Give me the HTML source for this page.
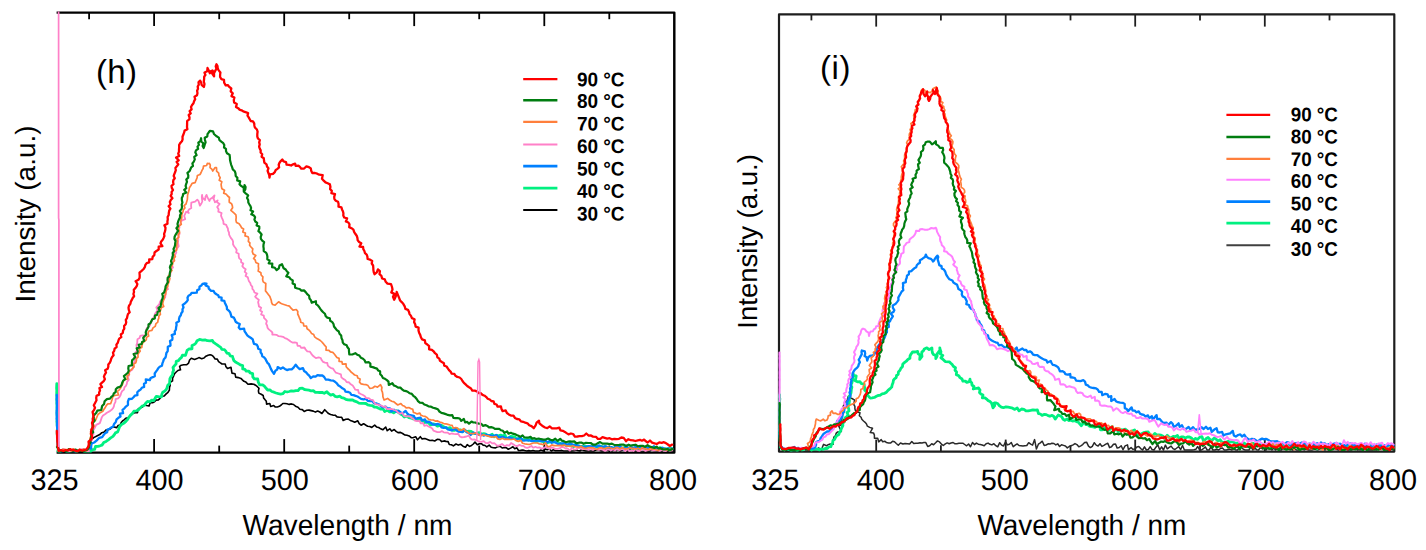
<!DOCTYPE html>
<html><head><meta charset="utf-8"><style>
html,body{margin:0;padding:0;background:#fff;}
body{width:1426px;height:550px;overflow:hidden;}
svg{display:block;}
text{font-family:"Liberation Sans",sans-serif;fill:#000;text-rendering:geometricPrecision;}
.lg{font-size:19.7px;font-weight:bold;}
.tk{font-size:29.6px;}
.ax{font-size:29px;}
.yl1{font-size:27.8px;}
.yl2{font-size:27.5px;}
.pl{font-size:33px;letter-spacing:0.3px;}
.pl2{font-size:33px;letter-spacing:0.6px;}
</style></head><body>
<svg width="1426" height="550" viewBox="0 0 1426 550">
<g stroke="#000" stroke-width="2.45" fill="none" stroke-linecap="butt" stroke-linejoin="round">
<polyline points="56.6,12.6 674.3,12.6 674.3,452.6 56.6,452.6"/>
</g>
<g stroke="#1e1e1e" stroke-width="2.2" fill="none" stroke-linecap="butt" stroke-linejoin="round">
<rect x="779.0" y="14.4" width="615.3" height="437.2"/>
</g>
<g stroke="#000" fill="none">
<line x1="89.1" y1="12.6" x2="89.1" y2="19.2" stroke-width="1.8"/>
<line x1="89.1" y1="452.6" x2="89.1" y2="445.6" stroke-width="1.8"/>
<line x1="154.1" y1="12.6" x2="154.1" y2="26.1" stroke-width="1.8"/>
<line x1="154.1" y1="452.6" x2="154.1" y2="439.1" stroke-width="1.8"/>
<line x1="219.2" y1="12.6" x2="219.2" y2="19.2" stroke-width="1.8"/>
<line x1="219.2" y1="452.6" x2="219.2" y2="445.6" stroke-width="1.8"/>
<line x1="284.2" y1="12.6" x2="284.2" y2="26.1" stroke-width="1.8"/>
<line x1="284.2" y1="452.6" x2="284.2" y2="439.1" stroke-width="1.8"/>
<line x1="349.2" y1="12.6" x2="349.2" y2="19.2" stroke-width="1.8"/>
<line x1="349.2" y1="452.6" x2="349.2" y2="445.6" stroke-width="1.8"/>
<line x1="414.2" y1="12.6" x2="414.2" y2="26.1" stroke-width="1.8"/>
<line x1="414.2" y1="452.6" x2="414.2" y2="439.1" stroke-width="1.8"/>
<line x1="479.2" y1="12.6" x2="479.2" y2="19.2" stroke-width="1.8"/>
<line x1="479.2" y1="452.6" x2="479.2" y2="445.6" stroke-width="1.8"/>
<line x1="544.3" y1="12.6" x2="544.3" y2="26.1" stroke-width="1.8"/>
<line x1="544.3" y1="452.6" x2="544.3" y2="439.1" stroke-width="1.8"/>
<line x1="609.3" y1="12.6" x2="609.3" y2="19.2" stroke-width="1.8"/>
<line x1="609.3" y1="452.6" x2="609.3" y2="445.6" stroke-width="1.8"/>
</g>
<g stroke="#1e1e1e" fill="none">
<line x1="811.4" y1="14.4" x2="811.4" y2="20.4" stroke-width="1.8"/>
<line x1="811.4" y1="451.6" x2="811.4" y2="445.3" stroke-width="1.8"/>
<line x1="876.2" y1="14.4" x2="876.2" y2="26.6" stroke-width="1.8"/>
<line x1="876.2" y1="451.6" x2="876.2" y2="439.6" stroke-width="1.8"/>
<line x1="940.9" y1="14.4" x2="940.9" y2="20.4" stroke-width="1.8"/>
<line x1="940.9" y1="451.6" x2="940.9" y2="445.3" stroke-width="1.8"/>
<line x1="1005.7" y1="14.4" x2="1005.7" y2="26.6" stroke-width="1.8"/>
<line x1="1005.7" y1="451.6" x2="1005.7" y2="439.6" stroke-width="1.8"/>
<line x1="1070.5" y1="14.4" x2="1070.5" y2="20.4" stroke-width="1.8"/>
<line x1="1070.5" y1="451.6" x2="1070.5" y2="445.3" stroke-width="1.8"/>
<line x1="1135.2" y1="14.4" x2="1135.2" y2="26.6" stroke-width="1.8"/>
<line x1="1135.2" y1="451.6" x2="1135.2" y2="439.6" stroke-width="1.8"/>
<line x1="1200.0" y1="14.4" x2="1200.0" y2="20.4" stroke-width="1.8"/>
<line x1="1200.0" y1="451.6" x2="1200.0" y2="445.3" stroke-width="1.8"/>
<line x1="1264.8" y1="14.4" x2="1264.8" y2="26.6" stroke-width="1.8"/>
<line x1="1264.8" y1="451.6" x2="1264.8" y2="439.6" stroke-width="1.8"/>
<line x1="1329.5" y1="14.4" x2="1329.5" y2="20.4" stroke-width="1.8"/>
<line x1="1329.5" y1="451.6" x2="1329.5" y2="445.3" stroke-width="1.8"/>
</g>
<path d="M58.5 451.5 L60.6 451.0 L62.7 451.0 L64.8 451.0 L67.0 451.0 L69.1 450.7 L71.2 451.0 L73.3 451.0 L75.4 451.0 L77.5 451.0 L79.7 451.0 L81.8 451.0 L83.9 451.0 L85.3 450.2 L89.1 449.5 L90.1 446.7 L91.3 444.2 L90.7 441.3 L91.7 439.4 L93.7 437.6 L97.3 435.7 L99.8 434.6 L101.8 432.7 L104.2 432.0 L105.9 430.0 L108.5 429.7 L110.6 428.7 L113.0 426.7 L116.7 427.6 L118.1 425.5 L120.2 424.9 L121.2 422.5 L122.5 421.0 L124.1 419.8 L125.7 418.4 L127.9 417.9 L129.6 416.6 L131.1 415.0 L132.7 413.5 L134.7 412.7 L137.5 412.8 L137.8 409.3 L140.1 407.7 L142.3 407.2 L144.0 404.9 L146.6 405.5 L149.1 405.9 L150.2 402.4 L152.6 402.7 L154.5 401.8 L156.0 400.1 L158.4 399.9 L160.0 398.4 L161.0 396.3 L164.2 396.0 L165.9 394.1 L168.0 392.3 L169.4 390.1 L169.5 387.5 L170.2 385.2 L169.9 382.5 L172.5 380.9 L172.6 378.1 L173.7 375.8 L174.6 373.6 L176.2 372.0 L177.9 370.5 L180.5 369.8 L179.6 366.4 L181.3 365.2 L183.7 364.7 L186.5 364.8 L188.6 363.1 L189.6 360.0 L191.3 358.3 L194.6 359.4 L197.0 358.6 L198.9 357.6 L201.7 358.7 L204.0 358.0 L205.9 356.2 L208.1 355.2 L210.0 354.7 L211.4 355.1 L212.6 355.7 L213.9 357.3 L215.1 359.0 L217.3 359.1 L218.6 361.6 L220.1 362.7 L222.0 364.0 L225.2 364.0 L225.8 366.4 L227.5 368.5 L231.0 367.3 L231.5 370.5 L232.0 373.1 L235.0 373.7 L235.7 377.1 L238.3 377.6 L240.9 378.4 L242.4 379.9 L243.9 381.3 L245.9 382.1 L248.0 384.2 L251.1 383.9 L253.8 384.2 L256.0 385.5 L257.4 386.7 L259.0 388.3 L258.4 390.9 L258.8 393.1 L261.2 394.3 L263.2 395.5 L263.6 397.9 L264.9 399.6 L266.3 401.3 L266.6 404.1 L269.8 403.5 L270.7 406.4 L273.7 405.5 L275.1 406.9 L277.3 407.0 L279.4 406.3 L281.2 405.0 L282.8 403.5 L284.9 403.5 L287.0 403.8 L289.2 404.4 L291.4 403.9 L293.5 404.5 L295.5 406.2 L298.0 407.2 L299.9 409.3 L302.3 409.6 L304.2 411.4 L306.7 410.3 L309.0 410.1 L311.1 410.6 L313.3 411.1 L315.4 412.1 L317.7 411.1 L319.8 412.0 L321.9 413.5 L324.7 409.7 L326.7 411.8 L328.5 413.6 L330.6 414.5 L332.8 415.1 L335.2 415.2 L337.0 416.9 L339.3 417.2 L341.7 417.2 L343.1 420.4 L345.8 419.2 L348.3 419.1 L350.3 420.4 L352.6 421.2 L354.7 422.2 L357.8 420.8 L359.2 423.6 L361.1 425.2 L363.6 423.7 L365.6 425.0 L367.6 426.2 L369.8 426.5 L371.8 427.4 L374.7 425.2 L376.5 426.9 L378.7 427.5 L380.7 428.8 L382.8 429.8 L385.7 427.0 L387.2 430.7 L389.8 428.8 L391.6 431.1 L394.2 429.5 L396.1 431.4 L398.0 432.6 L400.5 432.4 L402.6 433.5 L404.6 434.9 L407.0 435.2 L409.2 435.9 L411.2 437.7 L413.4 437.6 L415.8 436.8 L417.5 439.8 L420.3 436.7 L422.1 438.9 L424.9 438.5 L427.4 439.4 L429.9 440.5 L432.3 440.3 L434.7 441.0 L437.2 439.3 L439.6 439.5 L441.7 441.6 L444.0 440.9 L446.0 441.4 L448.1 441.6 L449.3 444.5 L451.4 444.7 L453.4 445.9 L456.0 444.0 L458.3 445.1 L460.8 444.3 L463.0 446.2 L465.5 447.2 L467.2 444.6 L469.6 446.4 L471.5 445.5 L473.3 444.0 L475.0 442.1 L477.3 444.7 L479.3 443.7 L481.4 443.7 L483.1 445.1 L485.1 445.5 L486.8 446.9 L489.2 445.1 L491.2 447.2 L493.4 447.7 L495.6 447.9 L497.9 446.6 L500.2 446.3 L502.2 448.0 L504.5 447.4 L506.5 447.8 L508.3 449.3 L510.6 448.1 L512.9 446.7 L514.7 448.7 L516.9 447.8 L518.5 450.5 L520.6 450.4 L522.8 450.0 L524.7 450.5 L526.8 451.0 L528.8 450.6 L530.9 451.0 L532.9 450.5 L535.0 451.0 L537.0 451.0 L539.1 451.0 L541.1 450.1 L543.2 451.0 L545.2 449.0 L547.3 449.8 L549.3 449.0 L551.3 451.0 L553.4 449.7 L555.4 450.8 L557.5 450.7 L559.5 450.8 L561.6 450.4 L563.6 451.0 L565.6 451.0 L567.7 451.0 L569.7 451.0 L571.8 451.0 L573.8 450.8 L575.8 449.9 L577.8 450.5 L579.8 451.0 L581.8 449.5 L583.8 450.5 L585.8 451.0 L587.8 451.0 L589.8 451.0 L591.8 451.0 L593.8 451.0 L595.9 450.0 L597.9 449.6 L599.9 450.5 L601.9 451.0 L603.9 450.6 L605.9 450.3 L607.9 450.4 L609.9 449.7 L611.9 451.0 L613.9 450.0 L615.9 451.0 L617.9 449.0 L619.9 451.0 L621.9 450.5 L623.9 449.4 L625.9 451.0 L627.9 450.9 L629.9 449.1 L631.9 450.3 L633.9 451.0 L635.9 450.7 L637.9 451.0 L639.9 451.0 L641.9 451.0 L643.9 451.0 L645.9 451.0 L648.0 451.0 L650.0 451.0 L652.0 449.3 L654.0 451.0 L656.0 451.0 L658.0 450.9 L660.0 450.8 L662.0 451.0 L664.0 449.6 L666.0 451.0 L668.0 451.0 L670.0 450.4 L672.0 451.2" fill="none" stroke="#000000" stroke-width="1.6" stroke-linejoin="round" stroke-linecap="round"/>
<path d="M56.8 383.6 L56.7 385.9 L56.6 388.2 L56.8 390.4 L56.7 392.7 L56.7 395.0 L56.9 397.0 L56.9 399.1 L56.9 401.1 L56.8 403.2 L57.0 405.2 L57.0 407.3 L57.1 409.3 L57.1 411.4 L57.0 413.4 L57.1 415.5 L57.3 417.5 L57.3 419.5 L56.9 421.6 L57.1 423.6 L57.2 425.7 L57.6 427.7 L57.3 429.8 L57.3 431.8 L57.2 433.9 L57.4 435.9 L57.5 438.0 L57.4 440.0 L57.9 442.2 L57.8 444.4 L58.1 446.6 L58.4 448.8 L57.8 451.0 L60.6 451.0 L62.7 449.9 L64.8 450.6 L66.9 451.0 L69.0 451.0 L71.1 450.9 L73.3 450.5 L75.3 451.0 L77.5 451.0 L79.6 450.4 L81.7 450.3 L83.8 451.0 L85.9 451.0 L88.0 451.0 L91.1 451.0 L92.4 449.7 L94.7 449.3 L95.5 446.5 L97.9 446.4 L100.0 445.8 L102.0 445.1 L103.7 442.6 L106.1 441.4 L108.6 439.6 L110.7 437.9 L113.0 436.4 L114.3 434.7 L115.4 432.9 L117.6 432.0 L118.6 429.5 L119.5 426.9 L121.1 424.8 L123.6 423.4 L125.7 421.7 L127.4 419.7 L128.7 417.5 L130.3 415.4 L132.3 413.6 L133.9 411.2 L136.5 410.8 L138.7 409.7 L140.2 407.9 L142.0 406.2 L144.3 405.5 L145.7 403.3 L147.5 401.4 L150.0 401.8 L151.5 400.2 L153.9 400.5 L155.1 398.3 L156.3 396.3 L158.6 396.6 L161.5 396.8 L161.8 394.2 L162.7 392.2 L164.5 391.2 L166.3 389.5 L167.1 387.4 L167.8 385.2 L169.6 383.4 L169.7 381.0 L169.9 378.6 L171.1 376.5 L172.6 374.6 L172.7 372.3 L173.6 370.2 L173.0 367.5 L174.5 365.7 L176.1 363.8 L176.2 361.4 L178.5 360.6 L179.8 358.8 L181.5 357.4 L182.4 355.2 L185.5 355.3 L186.3 352.9 L187.1 350.4 L188.9 349.0 L192.0 348.8 L192.0 345.5 L194.3 344.5 L196.0 342.9 L197.1 340.7 L199.6 339.4 L202.4 340.1 L205.0 339.8 L207.3 340.7 L209.8 340.8 L212.4 340.5 L213.6 342.4 L215.4 343.7 L217.2 344.9 L218.9 346.2 L220.7 347.4 L221.8 349.3 L224.4 349.6 L225.8 351.2 L226.9 353.1 L229.2 353.7 L230.1 355.8 L232.5 356.3 L233.1 358.5 L233.9 360.7 L235.9 362.3 L238.1 363.4 L240.2 364.8 L242.7 365.6 L242.7 368.9 L244.9 369.4 L246.2 371.1 L248.9 371.1 L250.1 372.9 L252.7 373.7 L252.8 376.9 L254.3 378.8 L257.7 379.0 L258.3 382.2 L259.6 384.9 L262.7 384.9 L264.6 386.4 L266.1 388.3 L267.6 390.0 L269.9 389.9 L271.8 391.5 L274.0 392.2 L276.1 393.0 L278.4 393.6 L280.7 394.1 L282.8 393.7 L284.9 391.5 L287.1 392.0 L289.2 391.5 L291.3 390.9 L293.6 391.2 L295.8 390.7 L298.1 390.6 L299.8 388.4 L302.3 388.1 L304.5 389.5 L306.7 389.8 L308.9 390.2 L311.0 390.8 L313.3 390.7 L315.3 392.3 L317.5 392.4 L319.8 392.5 L322.1 392.4 L324.2 393.3 L326.9 391.8 L328.7 393.7 L330.7 395.1 L333.2 394.4 L335.0 396.3 L337.2 396.8 L339.7 396.2 L341.6 397.6 L343.8 398.1 L345.8 399.3 L348.0 399.9 L350.3 400.0 L352.7 400.0 L354.7 401.2 L356.9 401.9 L358.9 403.1 L361.1 403.4 L363.5 403.3 L365.9 403.5 L367.8 404.9 L370.1 405.3 L372.3 405.6 L374.3 407.0 L376.6 407.2 L378.6 408.2 L380.7 409.1 L383.1 408.9 L384.7 411.6 L387.4 410.1 L389.3 411.8 L391.7 411.5 L393.7 412.9 L396.6 410.7 L398.5 412.5 L400.4 414.0 L402.5 415.0 L404.3 417.0 L407.0 416.2 L408.9 417.7 L411.2 418.0 L413.3 418.9 L415.6 419.3 L418.0 419.5 L420.0 420.7 L422.6 420.2 L424.2 422.7 L426.9 421.6 L428.8 423.1 L430.6 425.1 L433.3 423.8 L435.4 424.6 L437.4 426.0 L439.7 425.7 L441.9 425.5 L443.7 426.9 L445.7 427.7 L447.8 428.3 L450.1 427.7 L451.9 430.1 L454.0 430.4 L456.3 429.4 L458.4 430.0 L460.6 429.8 L462.4 431.6 L464.8 430.3 L466.7 431.7 L469.0 431.2 L471.1 431.4 L473.0 432.9 L475.0 433.7 L477.3 433.0 L479.5 432.7 L481.5 434.1 L483.7 433.7 L485.7 434.2 L487.7 435.4 L489.9 435.4 L492.2 434.3 L494.0 436.8 L496.3 435.2 L498.4 436.0 L500.6 435.1 L502.7 435.9 L504.9 434.9 L506.4 438.1 L508.4 438.1 L510.8 436.4 L512.8 436.6 L514.8 436.8 L516.4 439.4 L518.6 438.5 L520.5 439.2 L522.6 439.4 L524.5 439.9 L526.6 439.3 L528.5 440.3 L530.6 439.3 L532.5 440.6 L534.5 441.0 L536.5 441.3 L538.5 440.9 L540.6 440.5 L542.5 441.5 L544.5 441.1 L546.4 443.0 L548.5 442.5 L550.5 441.9 L552.5 441.8 L554.6 441.7 L556.7 441.9 L558.7 442.7 L560.7 443.5 L562.7 444.1 L564.8 444.4 L566.7 446.0 L569.1 444.1 L571.1 445.0 L572.8 447.6 L575.5 444.2 L577.3 445.6 L579.3 446.2 L581.4 446.3 L583.4 446.6 L585.4 446.2 L587.5 446.8 L589.5 446.6 L591.5 447.3 L593.6 445.2 L595.6 446.1 L597.6 447.0 L599.7 446.2 L601.7 446.3 L603.7 447.7 L605.8 446.8 L607.8 447.9 L609.8 448.1 L611.9 447.9 L613.9 448.1 L615.9 447.7 L618.0 446.8 L620.0 448.0 L622.0 448.4 L624.0 447.6 L626.0 448.0 L628.0 448.8 L630.0 447.5 L632.0 448.7 L634.0 449.8 L636.0 447.9 L638.0 448.5 L640.0 448.3 L642.0 449.7 L644.0 448.7 L646.0 449.2 L648.0 448.0 L650.0 448.6 L652.0 448.6 L654.0 447.2 L656.0 449.9 L658.0 449.5 L660.0 447.4 L662.0 449.4 L664.0 448.7 L666.0 449.2 L668.0 449.2 L670.0 447.7 L672.0 449.0" fill="none" stroke="#00f080" stroke-width="2.8" stroke-linejoin="round" stroke-linecap="round"/>
<path d="M56.8 395.0 L56.8 397.2 L56.6 399.3 L56.9 401.5 L56.9 403.7 L57.0 405.8 L56.9 408.0 L56.8 410.2 L56.6 412.3 L56.7 414.5 L56.8 416.6 L56.6 418.8 L57.0 420.9 L57.1 423.0 L57.0 425.1 L57.1 427.3 L57.3 429.4 L57.4 431.5 L57.3 433.6 L57.4 435.8 L57.6 437.9 L57.5 440.0 L57.8 442.1 L57.8 444.2 L58.1 446.3 L58.3 448.4 L58.7 450.3 L60.6 451.0 L62.7 451.0 L64.8 450.3 L67.0 451.0 L69.1 450.0 L71.2 450.7 L73.3 451.0 L75.4 451.0 L77.5 450.4 L79.7 450.7 L81.8 450.9 L83.9 449.6 L86.0 450.8 L87.9 450.0 L91.1 448.2 L91.2 445.7 L91.7 443.5 L94.2 442.5 L96.5 440.6 L99.3 437.8 L102.2 437.1 L103.9 434.7 L105.1 433.1 L107.2 432.2 L107.5 429.6 L109.4 428.7 L111.3 427.6 L113.2 426.6 L114.1 423.9 L115.8 421.9 L116.6 419.3 L118.4 417.8 L120.5 416.5 L119.9 413.6 L123.1 413.1 L122.5 409.8 L124.4 408.3 L125.9 406.6 L128.0 404.8 L127.9 401.6 L128.9 399.0 L132.0 398.8 L133.5 397.3 L134.8 395.7 L137.4 395.2 L137.3 392.3 L138.8 390.8 L140.5 389.6 L141.8 387.8 L144.1 386.9 L144.0 383.7 L146.0 382.7 L145.8 379.3 L149.8 380.2 L150.7 378.0 L152.8 377.1 L154.8 376.2 L154.7 373.5 L155.8 371.9 L157.1 370.1 L158.2 368.3 L159.7 366.8 L161.9 365.8 L162.4 363.4 L163.2 361.4 L163.9 359.2 L165.5 357.4 L166.0 355.2 L166.4 353.0 L167.7 351.2 L167.8 349.1 L167.8 346.8 L170.5 345.6 L170.4 343.4 L170.0 341.1 L172.3 339.7 L172.5 337.5 L171.7 335.1 L174.9 333.9 L174.7 331.5 L175.9 329.6 L176.1 327.3 L176.6 325.1 L176.3 322.7 L179.0 321.3 L179.0 319.0 L179.5 317.0 L180.8 315.3 L181.3 313.2 L182.6 311.5 L182.5 309.3 L183.5 307.4 L182.7 304.9 L184.8 303.5 L186.5 301.9 L187.8 300.1 L187.5 297.6 L188.5 295.7 L190.3 294.8 L191.6 292.8 L194.0 292.9 L196.7 292.7 L197.3 290.1 L199.4 289.2 L199.5 286.7 L201.3 285.6 L202.5 283.9 L204.7 283.5 L206.5 283.7 L205.6 285.4 L208.5 286.8 L208.8 288.7 L211.1 290.9 L213.5 290.9 L214.7 293.0 L216.4 294.2 L218.2 295.2 L219.0 297.2 L221.6 297.6 L221.5 300.4 L224.3 300.8 L224.9 303.0 L225.9 304.9 L226.8 306.8 L227.0 309.1 L228.7 310.6 L230.1 312.2 L230.8 314.4 L231.4 316.7 L233.8 317.6 L234.8 319.5 L235.6 321.7 L237.5 323.0 L239.8 324.0 L238.7 327.5 L240.2 329.1 L244.1 328.7 L244.6 331.4 L246.0 333.3 L247.3 335.3 L249.1 336.8 L251.0 338.0 L252.8 339.4 L253.3 341.7 L254.0 343.9 L256.7 344.6 L257.8 346.5 L258.2 348.7 L260.6 349.7 L260.6 352.3 L261.8 354.0 L262.3 356.2 L264.2 357.4 L265.5 359.0 L266.4 360.9 L267.4 362.8 L268.9 364.2 L269.9 366.5 L270.9 368.9 L272.1 371.1 L274.0 373.8 L275.4 370.7 L277.2 369.6 L277.7 367.1 L280.7 368.8 L282.9 367.5 L284.9 368.9 L287.0 370.1 L289.1 369.4 L291.7 369.4 L293.6 367.6 L295.7 364.7 L297.9 367.5 L299.7 369.2 L303.0 368.1 L304.1 371.0 L306.0 372.3 L307.5 374.1 L309.2 375.7 L310.8 378.1 L313.2 376.4 L315.6 376.7 L317.5 375.1 L319.7 375.5 L322.3 375.4 L324.2 377.0 L325.7 379.5 L328.3 379.6 L330.7 380.3 L333.3 380.6 L335.3 382.0 L337.1 383.7 L338.5 385.6 L340.6 386.8 L342.4 388.3 L344.5 389.4 L345.6 391.7 L348.3 392.0 L350.1 392.8 L351.4 394.8 L353.6 395.1 L355.5 395.8 L357.5 396.5 L359.2 397.6 L361.1 398.9 L363.4 399.4 L365.9 398.8 L367.7 400.8 L370.0 401.2 L372.5 401.2 L374.1 403.4 L376.6 403.5 L378.8 404.3 L380.7 406.0 L382.7 407.3 L385.5 406.6 L387.3 408.4 L389.9 408.3 L391.3 411.6 L394.1 409.8 L396.0 411.6 L398.4 410.6 L400.4 412.2 L402.2 413.7 L405.6 410.9 L407.2 413.4 L409.1 415.0 L411.4 415.4 L413.8 415.8 L415.1 418.8 L417.9 418.1 L420.6 417.7 L422.1 420.5 L425.0 419.4 L426.4 422.3 L429.0 421.7 L431.0 423.0 L432.9 424.6 L435.4 424.5 L438.0 424.0 L440.1 424.5 L441.4 427.4 L443.6 427.8 L446.1 427.3 L447.7 429.3 L449.9 429.8 L452.0 430.3 L454.5 428.3 L456.3 430.2 L458.3 431.5 L460.4 431.8 L462.5 432.2 L465.0 429.9 L466.8 432.4 L468.8 433.0 L470.7 435.0 L473.2 432.5 L475.2 433.4 L477.3 434.0 L479.4 435.0 L481.6 434.2 L483.6 435.7 L486.0 434.5 L488.0 435.6 L490.2 435.2 L492.3 436.0 L494.5 435.6 L496.8 435.2 L498.6 437.6 L500.9 437.2 L503.1 436.8 L505.2 437.7 L507.3 438.5 L509.6 437.2 L511.7 438.2 L513.8 438.9 L516.0 439.2 L518.2 438.7 L520.7 437.6 L522.6 440.7 L525.0 440.3 L527.3 440.3 L529.6 440.4 L531.8 441.2 L534.0 440.8 L536.3 440.4 L538.5 440.7 L540.7 441.0 L542.9 441.1 L545.1 440.7 L547.3 442.3 L549.7 441.0 L551.8 442.8 L554.2 441.7 L556.4 443.0 L558.6 444.2 L561.1 443.6 L563.6 443.2 L565.8 444.2 L568.2 444.6 L570.4 443.3 L572.3 444.4 L574.3 445.3 L576.3 445.0 L578.3 445.6 L580.3 446.4 L582.3 446.6 L584.3 446.9 L586.4 446.9 L588.5 446.2 L590.6 446.5 L592.7 446.4 L594.8 446.4 L596.9 446.6 L599.0 445.4 L601.1 446.6 L603.2 446.9 L605.3 446.2 L607.4 447.1 L609.5 447.6 L611.6 447.1 L613.6 449.0 L615.9 445.3 L617.9 447.3 L620.0 446.0 L622.0 448.3 L624.0 449.7 L626.0 445.6 L628.0 447.8 L630.0 448.1 L632.0 447.5 L634.0 448.2 L636.0 446.0 L638.0 448.5 L640.0 448.2 L642.0 447.9 L644.0 447.5 L646.0 448.5 L648.0 447.6 L650.0 448.3 L652.0 447.7 L654.0 446.3 L656.0 448.2 L658.0 448.4 L660.0 448.9 L662.0 447.6 L664.0 448.3 L666.0 448.9 L668.0 448.5 L670.0 449.5 L672.0 448.5" fill="none" stroke="#0080ff" stroke-width="2.3" stroke-linejoin="round" stroke-linecap="round"/>
<path d="M58.9 447.0 L58.6 451.0 L61.8 449.8 L63.8 448.9 L65.8 451.0 L67.9 451.0 L69.9 451.0 L71.9 451.0 L73.9 450.0 L75.9 449.9 L77.9 451.0 L79.9 449.8 L82.0 449.0 L84.0 449.7 L86.0 451.0 L89.0 451.0 L88.1 448.2 L88.6 446.1 L90.0 444.3 L89.8 441.9 L92.0 440.3 L91.5 437.9 L91.2 435.6 L93.6 434.0 L92.6 431.5 L93.8 429.6 L95.0 427.3 L96.2 424.9 L99.8 423.1 L100.8 420.4 L101.7 417.6 L103.0 415.6 L105.0 414.3 L106.9 412.7 L109.4 411.4 L111.6 409.8 L113.1 408.2 L113.9 406.3 L114.3 404.1 L115.5 401.9 L115.6 399.1 L118.1 398.4 L119.6 396.8 L120.6 395.0 L121.2 392.9 L122.2 391.0 L124.0 389.6 L124.4 387.3 L125.9 385.8 L126.8 383.8 L127.2 381.6 L128.8 379.8 L128.0 377.3 L128.8 375.3 L129.2 373.2 L129.8 371.1 L132.3 369.7 L133.2 367.7 L132.5 365.2 L133.6 363.3 L134.7 361.4 L135.1 359.3 L135.8 357.3 L134.2 354.9 L135.1 353.1 L136.4 351.2 L137.5 349.4 L136.8 347.2 L136.4 345.1 L137.2 343.2 L137.3 341.2 L137.5 339.2 L139.6 338.0 L140.2 335.9 L142.3 335.4 L145.4 335.7 L145.9 333.0 L146.3 330.8 L146.6 328.5 L148.3 326.9 L150.1 325.4 L150.4 323.2 L151.8 321.5 L152.6 318.7 L154.5 316.6 L154.8 314.2 L156.1 312.2 L157.5 310.2 L156.3 307.3 L158.2 305.5 L159.5 303.8 L160.1 301.6 L161.4 299.9 L163.3 298.6 L165.2 297.3 L165.5 294.8 L165.7 292.7 L164.8 290.4 L168.0 289.1 L167.0 286.8 L167.4 284.8 L167.1 282.7 L168.4 280.9 L168.1 278.8 L169.5 277.1 L170.3 275.2 L170.4 273.2 L171.1 271.3 L170.7 269.1 L173.0 267.6 L172.0 265.0 L171.7 262.7 L173.6 260.9 L173.7 258.6 L174.1 256.5 L175.2 254.5 L176.3 252.5 L175.8 250.1 L177.2 248.2 L178.7 246.3 L178.3 244.2 L177.9 242.1 L178.3 240.0 L178.3 238.0 L178.6 235.9 L179.5 234.0 L179.0 231.9 L177.4 229.6 L179.5 227.8 L179.1 225.7 L180.5 223.9 L180.8 221.6 L182.6 220.1 L185.2 219.1 L184.2 215.9 L186.1 211.8 L188.8 213.0 L187.8 211.5 L188.9 209.6 L191.3 208.1 L191.1 205.8 L191.3 202.7 L195.1 201.7 L197.3 199.6 L198.5 201.0 L199.2 203.2 L199.9 205.7 L201.4 203.5 L202.3 201.5 L202.0 199.2 L201.8 196.9 L202.1 194.9 L202.4 197.7 L205.1 200.0 L205.5 196.6 L206.5 194.9 L207.3 196.9 L208.4 199.1 L209.5 201.0 L210.2 199.0 L212.2 197.9 L214.5 195.4 L213.6 199.0 L214.6 201.1 L214.9 202.4 L217.6 200.4 L216.8 202.0 L219.6 203.9 L217.2 207.0 L218.6 209.2 L218.3 211.7 L221.6 213.0 L221.0 215.6 L221.8 217.6 L222.7 219.6 L223.4 221.5 L223.5 223.8 L226.2 224.8 L226.9 226.7 L227.9 228.5 L228.1 230.6 L229.0 232.5 L229.1 234.6 L230.0 236.4 L231.0 238.2 L232.4 239.8 L233.1 241.9 L233.0 244.3 L234.1 246.3 L235.5 248.0 L236.7 249.9 L236.2 252.5 L238.7 253.8 L238.7 256.2 L239.2 258.4 L241.2 259.9 L241.1 262.2 L243.3 263.6 L242.3 266.1 L243.6 267.8 L245.7 269.3 L244.7 271.9 L246.6 273.4 L245.6 275.9 L247.8 277.3 L248.3 279.3 L249.0 281.3 L250.3 283.0 L250.8 285.0 L252.3 286.6 L252.4 288.9 L253.8 290.5 L254.4 292.5 L257.4 293.6 L255.1 296.7 L256.7 298.3 L258.8 299.7 L258.1 302.2 L258.6 304.2 L258.9 306.4 L261.2 307.7 L260.1 310.4 L262.1 311.8 L261.1 314.5 L263.8 315.6 L264.0 317.8 L265.5 319.4 L266.9 321.0 L266.1 323.7 L267.1 325.5 L267.5 327.7 L268.8 329.4 L270.7 330.9 L272.4 332.5 L272.3 334.6 L274.3 334.7 L276.5 334.8 L278.6 336.2 L280.8 336.3 L283.0 336.8 L284.9 338.1 L287.1 338.9 L289.0 340.2 L290.6 341.5 L292.4 342.6 L294.8 342.4 L296.9 342.8 L297.6 345.9 L300.0 345.9 L301.3 347.9 L304.5 347.5 L305.7 349.7 L307.3 351.3 L309.9 351.7 L311.2 353.6 L312.6 355.5 L314.2 356.8 L315.9 358.1 L318.7 357.4 L320.7 358.0 L321.8 360.3 L323.1 361.9 L325.0 362.7 L327.3 363.0 L327.8 365.6 L329.3 366.9 L331.0 368.1 L333.1 368.7 L334.4 370.8 L335.9 372.7 L338.4 373.5 L340.9 374.4 L341.4 377.3 L343.2 378.9 L345.2 380.0 L346.6 382.0 L349.2 382.5 L350.7 384.3 L352.7 385.6 L354.0 387.6 L355.3 389.7 L358.1 390.0 L358.7 392.9 L360.8 394.0 L363.0 395.0 L364.9 396.2 L366.2 398.2 L368.9 398.2 L370.7 399.6 L373.0 400.2 L374.1 402.5 L375.6 404.1 L377.7 404.4 L379.6 405.2 L381.6 405.7 L383.3 406.8 L385.6 406.5 L387.1 409.1 L389.7 408.8 L392.0 409.0 L394.1 410.0 L396.3 410.6 L398.0 412.6 L399.8 413.7 L402.5 412.9 L403.6 415.5 L405.5 416.4 L407.9 416.2 L410.1 416.5 L411.7 418.0 L413.5 419.0 L415.0 420.6 L417.1 421.1 L419.6 420.8 L420.7 423.4 L423.2 423.0 L424.2 425.8 L426.8 425.2 L428.5 426.5 L430.4 427.3 L432.2 428.4 L433.4 430.7 L435.4 431.3 L437.4 432.1 L439.6 432.2 L441.8 431.1 L443.7 432.3 L445.7 432.6 L447.7 432.6 L449.5 434.2 L451.7 433.5 L453.7 433.9 L455.9 434.1 L458.2 433.8 L459.8 436.4 L461.8 437.4 L464.1 437.0 L466.4 436.5 L468.8 435.6 L470.4 438.4 L472.3 439.7 L474.7 439.5 L476.7 440.5 L478.9 441.5 L481.1 441.8 L483.7 441.1 L485.6 442.8 L487.8 443.1 L490.3 441.9 L492.1 443.4 L494.3 443.1 L496.0 444.7 L497.9 445.9 L500.0 445.1 L502.0 444.0 L504.7 446.2 L506.9 445.1 L509.3 445.6 L511.1 442.9 L513.6 444.5 L515.2 445.7 L517.1 446.1 L519.5 444.9 L521.4 445.8 L523.4 445.9 L525.1 447.3 L527.2 447.8 L529.3 447.1 L531.4 446.0 L533.4 447.7 L535.4 446.8 L537.4 447.7 L539.4 447.4 L541.4 448.5 L543.5 448.2 L545.5 446.9 L547.5 447.7 L549.5 448.9 L551.6 447.2 L553.5 448.1 L555.5 448.8 L557.5 448.9 L559.6 448.4 L561.6 447.0 L563.6 447.2 L565.7 448.5 L567.8 448.7 L569.8 450.6 L572.0 447.9 L574.1 449.6 L576.2 449.4 L578.4 447.5 L580.4 448.3 L582.5 449.2 L584.6 448.8 L586.7 449.2 L588.8 449.8 L590.9 448.8 L592.9 449.9 L595.0 449.0 L597.0 449.1 L599.0 450.0 L601.0 449.1 L603.1 449.9 L605.1 450.9 L607.1 449.7 L609.1 449.6 L611.2 450.3 L613.2 449.4 L615.2 450.6 L617.3 448.7 L619.3 450.3 L621.3 449.4 L623.3 449.2 L625.4 451.0 L627.4 449.2 L629.4 451.0 L631.4 450.4 L633.5 451.0 L635.5 449.1 L637.5 450.9 L639.5 451.0 L641.6 449.9 L643.6 449.9 L645.6 451.0 L647.7 450.2 L649.7 449.7 L651.7 449.6 L653.7 450.5 L655.8 450.4 L657.8 450.3 L659.8 451.0 L661.9 449.9 L663.9 450.6 L665.9 451.0 L668.0 449.4 L670.0 451.0 L672.0 450.3" fill="none" stroke="#ff80c8" stroke-width="1.8" stroke-linejoin="round" stroke-linecap="round"/>
<path d="M58.5 450.5 L60.6 451.0 L62.7 449.4 L64.8 449.6 L66.9 449.7 L69.0 449.0 L71.1 450.9 L73.2 449.0 L75.4 450.9 L77.5 451.0 L79.6 449.2 L81.7 450.2 L83.8 448.9 L85.9 451.0 L87.6 450.0 L88.2 448.4 L88.9 446.4 L89.7 444.4 L89.4 442.2 L90.2 440.1 L90.1 438.0 L91.1 436.0 L90.4 433.8 L91.8 432.0 L90.6 429.7 L92.1 427.9 L94.4 426.3 L93.3 424.0 L92.7 421.5 L95.7 419.9 L96.9 417.0 L98.0 414.5 L100.2 412.7 L102.8 411.3 L104.2 408.9 L105.4 407.2 L106.4 405.3 L107.8 403.8 L110.6 403.7 L111.4 401.6 L112.1 399.5 L112.7 397.0 L114.5 395.3 L118.5 395.0 L117.4 391.3 L119.3 389.8 L120.7 388.0 L121.6 385.9 L122.7 383.9 L123.1 381.5 L124.5 379.7 L127.6 378.9 L127.0 375.9 L129.3 374.6 L128.7 371.6 L130.8 370.3 L132.4 368.5 L134.1 366.9 L133.7 364.1 L135.8 362.8 L136.4 360.8 L136.4 358.6 L138.1 357.1 L137.9 354.7 L138.8 352.8 L140.2 351.2 L139.0 348.4 L141.8 347.4 L142.0 345.2 L142.7 343.0 L144.4 341.3 L146.3 339.8 L146.5 337.4 L148.7 336.0 L148.0 333.1 L148.9 331.0 L151.9 330.3 L153.0 327.9 L155.2 326.4 L156.0 323.6 L157.8 322.2 L158.0 320.1 L158.8 318.1 L158.9 316.0 L160.4 314.4 L160.0 311.8 L160.7 309.8 L161.2 307.8 L163.7 306.4 L162.7 304.1 L163.0 302.0 L163.6 300.1 L164.5 298.2 L164.3 296.1 L165.6 294.3 L165.8 292.2 L166.4 290.3 L166.5 288.2 L167.8 286.4 L167.9 284.3 L168.8 282.4 L169.4 280.4 L169.9 278.5 L168.3 276.0 L170.1 274.3 L170.3 272.3 L172.0 270.5 L170.6 268.1 L171.8 266.3 L172.6 264.3 L173.0 262.3 L174.5 260.6 L173.8 258.3 L175.4 256.6 L173.8 254.0 L173.9 251.8 L176.7 250.1 L176.5 247.8 L176.9 245.7 L177.0 243.5 L177.6 241.4 L176.7 239.0 L178.8 237.1 L178.0 234.8 L179.6 232.9 L179.3 230.6 L178.0 228.2 L179.0 226.2 L181.3 224.4 L180.7 222.1 L180.9 219.9 L181.8 218.0 L181.7 215.8 L182.0 213.8 L182.9 211.8 L183.4 209.8 L184.9 207.9 L184.1 205.7 L186.0 204.0 L186.6 201.9 L187.3 199.7 L187.5 197.3 L187.6 194.9 L188.3 192.7 L189.0 190.3 L189.4 187.7 L190.9 185.5 L192.1 183.3 L195.1 182.7 L196.0 180.3 L197.0 178.0 L197.4 175.5 L200.0 174.5 L201.1 172.5 L202.0 170.4 L203.1 168.5 L203.5 166.2 L206.6 165.5 L207.3 163.4 L208.5 163.6 L209.4 163.4 L210.3 165.2 L210.0 167.6 L211.8 169.1 L212.7 171.0 L213.9 169.2 L215.1 167.6 L216.4 167.5 L216.6 168.8 L216.6 171.2 L218.7 173.1 L218.9 175.5 L220.2 177.6 L219.2 180.2 L221.8 181.7 L221.1 184.4 L221.4 186.6 L221.9 188.8 L224.5 190.3 L223.7 193.1 L226.3 194.2 L227.7 196.0 L229.5 197.5 L229.2 200.4 L229.3 202.3 L231.6 203.7 L232.3 205.6 L232.6 207.7 L230.9 210.3 L232.7 211.9 L234.4 213.4 L235.9 214.9 L236.2 217.4 L235.9 220.1 L236.5 222.5 L239.1 223.8 L240.5 225.7 L241.5 227.7 L243.6 229.0 L242.8 232.0 L245.4 233.1 L245.0 235.9 L248.1 236.7 L248.7 238.8 L248.3 241.3 L249.9 242.9 L249.6 245.3 L251.0 247.0 L252.8 248.9 L252.3 251.7 L253.1 253.9 L255.8 255.4 L253.6 258.4 L255.3 260.2 L255.8 262.4 L258.5 263.8 L258.3 266.2 L258.6 268.5 L258.2 271.1 L260.9 272.7 L261.1 275.0 L262.9 276.8 L262.6 279.6 L263.2 281.9 L265.8 283.5 L265.7 286.0 L265.6 288.5 L265.5 290.9 L267.0 292.8 L268.5 294.8 L269.9 296.6 L270.6 298.5 L271.3 300.5 L271.6 302.7 L272.6 304.5 L275.1 305.2 L276.8 303.5 L278.6 301.8 L280.7 303.2 L282.4 304.0 L284.7 304.7 L287.0 305.5 L289.4 306.1 L290.8 307.9 L293.0 310.1 L296.3 309.5 L297.8 311.5 L297.7 314.0 L298.7 316.0 L299.4 318.0 L300.4 320.0 L300.8 322.3 L303.4 323.3 L303.8 325.8 L306.5 326.2 L307.1 328.8 L308.9 330.0 L310.4 331.6 L311.6 333.6 L313.7 334.6 L314.6 336.8 L316.3 338.2 L318.3 339.3 L320.3 340.5 L321.9 342.0 L323.3 343.6 L324.7 345.4 L326.2 347.0 L326.0 350.2 L328.9 350.3 L330.4 351.9 L332.8 352.4 L334.3 354.0 L335.6 355.7 L336.9 357.5 L339.1 358.4 L339.1 361.4 L341.9 361.7 L342.5 364.2 L346.0 363.8 L346.2 366.7 L347.7 368.5 L349.5 370.1 L351.0 372.0 L352.8 373.4 L354.6 375.0 L357.2 375.7 L357.8 378.0 L360.1 379.0 L359.5 382.2 L361.1 383.8 L363.5 384.3 L365.8 384.6 L368.0 385.6 L369.8 388.4 L372.6 388.0 L374.9 386.3 L377.5 387.1 L380.5 384.7 L381.9 387.5 L381.5 390.0 L382.4 392.1 L382.8 394.4 L382.9 396.8 L384.1 400.0 L387.6 398.4 L389.6 400.0 L391.7 401.3 L394.0 401.9 L395.9 403.5 L397.8 405.0 L400.9 403.6 L402.6 405.5 L404.6 406.3 L406.2 407.8 L408.8 407.6 L410.7 408.6 L412.8 409.3 L413.4 412.4 L415.3 413.0 L417.2 413.9 L419.9 413.0 L421.0 415.3 L423.0 416.0 L424.9 416.3 L426.9 417.4 L428.7 419.3 L430.9 419.8 L433.2 420.0 L435.3 421.1 L437.6 420.9 L439.6 422.0 L441.6 422.6 L443.6 423.6 L445.8 423.8 L447.9 424.4 L450.0 425.0 L452.1 425.3 L453.3 428.2 L455.7 427.5 L457.7 428.1 L459.1 430.2 L461.3 430.2 L464.1 428.6 L465.4 431.0 L467.3 431.8 L469.0 433.3 L471.1 433.5 L473.2 433.7 L475.7 432.9 L477.5 433.8 L479.3 435.1 L481.4 435.6 L483.6 434.7 L485.6 435.5 L487.7 435.9 L489.7 436.6 L491.7 437.1 L493.8 437.0 L496.0 436.5 L497.8 438.9 L499.9 439.5 L502.4 438.3 L504.7 439.4 L507.1 439.1 L509.4 439.5 L511.7 439.5 L514.2 439.0 L516.1 440.6 L518.3 441.4 L520.8 440.4 L522.5 443.2 L524.7 443.8 L527.1 444.2 L529.2 444.5 L531.3 443.7 L533.4 443.0 L535.4 443.0 L537.5 443.0 L539.4 444.0 L541.5 444.1 L543.4 444.8 L545.6 442.9 L547.5 446.5 L549.6 446.6 L551.8 444.9 L553.8 445.6 L555.9 445.6 L558.0 445.6 L560.2 445.4 L562.2 445.6 L564.4 445.1 L566.4 446.1 L568.5 446.1 L570.6 446.5 L572.8 445.7 L574.7 446.6 L576.7 446.8 L578.7 447.4 L580.9 446.3 L582.8 447.6 L584.8 448.3 L586.8 448.1 L588.9 447.5 L590.9 447.6 L593.0 447.8 L595.0 448.7 L597.1 449.4 L599.2 448.0 L601.3 447.7 L603.4 448.5 L605.4 448.4 L607.5 447.6 L609.6 447.7 L611.7 448.3 L613.8 448.9 L615.9 447.5 L617.9 447.6 L620.0 448.9 L622.0 447.5 L624.0 448.6 L626.0 448.9 L628.0 448.5 L630.1 447.8 L632.0 448.6 L634.1 448.4 L636.1 449.0 L638.1 448.1 L640.1 449.7 L642.1 447.5 L644.1 448.7 L646.1 448.9 L648.1 449.7 L650.1 448.5 L652.1 449.4 L654.1 448.6 L656.1 449.7 L658.1 450.5 L660.2 448.8 L662.2 449.5 L664.2 448.4 L666.2 450.0 L668.2 450.2 L670.2 449.3 L672.2 449.3" fill="none" stroke="#ff7f3c" stroke-width="1.7" stroke-linejoin="round" stroke-linecap="round"/>
<path d="M57.0 447.0 L59.1 449.8 L60.6 450.8 L62.7 451.0 L64.8 451.0 L66.9 451.0 L69.0 449.0 L71.1 449.9 L73.2 451.0 L75.4 449.5 L77.5 451.0 L79.6 451.0 L81.7 451.0 L83.8 451.0 L85.9 450.2 L87.4 449.7 L88.4 448.4 L88.8 446.3 L89.5 444.2 L90.5 442.2 L90.4 440.0 L91.0 438.0 L91.4 436.1 L91.4 434.0 L93.2 432.2 L92.4 430.1 L92.6 427.5 L92.9 425.0 L92.9 422.8 L94.7 420.8 L94.0 418.6 L93.4 416.1 L94.9 414.3 L96.3 412.7 L97.3 410.6 L101.3 410.0 L102.1 406.0 L104.1 403.9 L104.6 401.2 L106.9 399.1 L110.0 398.6 L111.3 396.9 L113.1 395.5 L113.8 393.3 L115.7 392.0 L115.8 389.2 L117.5 387.6 L120.1 386.7 L121.6 385.0 L122.2 382.7 L123.2 380.7 L125.3 379.2 L123.9 376.1 L125.8 374.5 L127.8 372.9 L128.7 370.9 L128.3 368.3 L128.6 366.0 L132.0 365.2 L131.9 362.8 L132.1 360.4 L133.7 358.8 L135.2 357.1 L133.6 354.0 L137.2 353.2 L137.8 351.2 L136.7 348.3 L139.7 347.5 L138.7 344.8 L141.7 344.0 L142.1 341.9 L144.3 340.8 L143.2 337.9 L144.5 336.3 L146.2 334.8 L145.7 332.4 L146.4 330.4 L147.5 328.6 L148.5 326.8 L148.5 324.5 L150.5 323.1 L151.3 321.2 L152.3 319.3 L154.8 318.4 L154.9 315.6 L157.3 314.7 L157.6 312.0 L159.8 310.8 L158.4 308.0 L160.6 306.5 L160.9 304.4 L161.3 302.4 L161.8 300.3 L162.6 298.4 L162.9 296.3 L162.3 293.9 L164.2 292.3 L164.8 290.3 L165.4 288.3 L165.6 286.2 L166.7 284.3 L167.9 282.3 L167.5 280.1 L167.7 277.9 L169.6 276.1 L169.7 274.0 L170.1 271.8 L170.7 269.8 L169.9 267.4 L170.5 265.4 L171.9 263.5 L171.0 261.1 L171.8 259.1 L172.5 257.1 L172.9 255.1 L172.7 253.0 L174.1 251.2 L173.5 249.0 L174.5 247.1 L175.1 245.2 L175.2 243.1 L175.6 241.1 L174.4 238.9 L174.6 236.8 L175.5 234.9 L176.8 232.9 L178.1 230.8 L176.4 228.2 L178.0 226.2 L177.5 223.9 L178.1 221.7 L178.9 219.6 L180.0 217.6 L180.0 215.3 L181.1 213.3 L179.8 210.9 L181.6 209.0 L182.0 206.9 L181.7 204.6 L182.4 202.5 L181.9 200.3 L181.8 198.0 L182.8 196.1 L183.1 194.0 L186.4 192.6 L184.2 189.9 L186.3 188.2 L185.6 185.9 L186.2 183.9 L187.0 181.9 L186.3 179.5 L188.2 177.6 L188.3 175.3 L187.4 172.8 L189.6 171.1 L190.4 169.3 L191.2 167.4 L193.0 166.0 L192.4 163.5 L193.8 161.6 L194.8 159.4 L194.2 156.8 L196.6 155.2 L195.3 152.3 L196.0 150.4 L198.1 148.9 L197.5 146.6 L198.9 144.9 L198.3 142.6 L200.3 141.1 L201.1 138.2 L201.3 141.5 L203.4 143.3 L202.6 146.0 L203.7 148.0 L204.3 146.2 L204.8 144.3 L205.6 142.3 L205.0 140.0 L204.7 137.7 L207.3 136.4 L207.5 134.1 L208.8 132.3 L210.0 130.8 L213.0 131.4 L214.0 134.0 L216.2 136.0 L218.8 137.6 L219.5 140.2 L221.3 141.7 L223.3 143.2 L224.3 145.1 L224.0 147.5 L226.0 148.8 L226.0 151.1 L227.0 153.3 L229.6 154.9 L229.9 157.4 L230.0 160.0 L230.6 162.4 L231.2 164.8 L232.1 167.1 L232.8 169.4 L234.8 171.2 L235.5 173.4 L235.7 175.9 L237.4 177.7 L237.2 180.4 L240.2 181.4 L239.5 184.2 L241.1 185.9 L243.7 187.7 L243.8 191.7 L244.3 188.0 L244.5 185.0 L245.6 187.1 L245.3 189.4 L243.9 191.7 L246.0 193.7 L248.2 195.3 L247.0 197.9 L248.2 200.0 L248.3 202.5 L249.3 204.3 L250.4 206.0 L251.1 207.9 L250.5 210.3 L253.1 211.4 L251.3 214.3 L253.9 215.5 L255.1 217.2 L254.4 219.6 L255.3 221.5 L257.2 222.9 L256.6 225.4 L259.3 226.5 L259.3 228.7 L258.4 231.2 L260.2 232.7 L261.6 234.5 L260.7 236.8 L260.9 238.9 L262.2 240.6 L264.1 242.2 L263.5 244.5 L263.4 246.6 L263.7 248.7 L263.7 251.1 L266.0 252.6 L267.0 254.6 L267.4 256.7 L267.3 259.2 L269.7 260.6 L268.7 263.3 L272.3 263.6 L272.1 267.1 L274.9 267.8 L276.6 270.2 L278.8 268.4 L279.5 265.5 L282.0 264.2 L282.8 266.3 L283.6 268.2 L285.7 269.5 L286.8 271.3 L288.4 272.8 L286.3 276.4 L289.2 277.2 L290.6 279.1 L292.8 280.4 L292.6 283.4 L294.9 284.6 L295.1 287.7 L297.5 288.5 L299.7 289.0 L301.4 290.6 L304.0 290.4 L305.7 292.1 L307.2 294.1 L309.1 295.8 L309.5 298.5 L311.0 300.4 L311.7 302.8 L315.9 301.2 L316.1 304.2 L317.8 305.4 L319.1 307.0 L320.3 308.9 L321.6 310.6 L323.2 312.2 L324.9 313.7 L325.6 315.9 L327.1 317.6 L329.8 318.2 L330.2 320.8 L332.3 322.1 L333.5 324.0 L334.0 326.5 L335.4 328.3 L336.8 330.1 L338.8 331.5 L339.5 333.8 L341.2 335.6 L341.5 338.1 L342.5 340.3 L342.8 342.6 L344.2 344.2 L346.7 345.3 L347.5 347.3 L348.9 349.0 L349.0 351.3 L349.3 354.3 L352.3 354.5 L355.3 353.2 L357.2 354.7 L359.4 355.6 L361.0 357.8 L363.0 358.7 L364.6 360.2 L365.6 362.5 L368.6 362.1 L370.4 363.5 L370.3 366.6 L372.7 367.1 L374.8 367.9 L377.0 368.6 L378.1 370.4 L380.1 371.3 L380.2 374.3 L381.8 375.8 L382.8 377.9 L385.0 378.8 L386.9 380.1 L388.5 381.6 L388.8 384.9 L392.3 383.2 L393.9 385.5 L396.1 386.3 L398.1 387.6 L400.6 387.7 L402.1 389.4 L403.8 390.7 L406.0 391.1 L408.0 392.0 L409.7 393.3 L411.8 393.9 L413.3 395.8 L415.2 397.2 L416.7 399.0 L418.0 401.1 L419.8 402.6 L422.5 402.9 L424.3 404.5 L426.6 405.2 L428.6 406.4 L431.0 406.7 L433.1 407.8 L435.5 408.4 L437.8 409.2 L439.4 411.5 L441.4 412.9 L443.6 413.4 L445.7 414.1 L447.7 414.9 L449.9 415.3 L452.3 415.2 L453.4 417.9 L455.5 418.2 L457.7 418.2 L459.7 418.5 L461.2 420.8 L463.9 419.0 L465.1 422.4 L467.3 421.9 L469.0 423.7 L471.5 421.6 L473.3 422.5 L475.4 422.5 L477.3 423.4 L479.3 423.7 L481.4 423.9 L482.9 425.9 L485.4 425.1 L487.3 425.9 L489.0 427.3 L491.2 427.1 L493.1 427.7 L494.9 428.9 L497.1 428.9 L499.2 428.8 L500.9 430.3 L502.9 430.8 L504.4 432.9 L507.1 431.4 L508.5 433.6 L510.9 432.8 L512.8 433.7 L514.7 434.1 L516.6 435.0 L518.5 435.8 L520.3 436.9 L522.6 435.4 L524.3 437.4 L526.3 437.5 L528.3 437.7 L530.5 436.9 L532.2 438.6 L534.4 438.2 L536.3 439.0 L538.7 438.5 L541.0 439.2 L543.4 439.6 L545.7 439.6 L548.1 438.5 L550.4 439.7 L552.7 440.4 L555.3 438.7 L557.5 440.8 L560.2 438.8 L561.9 440.7 L563.8 441.1 L565.7 442.2 L567.8 441.7 L569.9 441.4 L571.9 441.6 L574.3 441.4 L576.5 443.3 L578.9 442.7 L581.3 442.6 L583.6 443.8 L586.0 442.8 L588.3 443.0 L590.7 443.0 L593.0 444.7 L595.4 444.6 L597.8 443.3 L600.1 442.1 L602.5 443.6 L604.8 443.5 L607.2 443.7 L609.5 444.1 L611.9 443.6 L614.2 444.9 L616.6 445.0 L619.0 444.8 L621.4 444.5 L623.8 444.7 L626.1 445.9 L628.6 444.7 L630.9 445.7 L633.3 445.2 L635.6 444.7 L638.0 446.3 L640.3 445.8 L642.7 445.8 L645.0 446.8 L647.6 445.2 L649.8 446.6 L652.1 447.2 L654.4 448.0 L656.6 446.7 L658.5 448.3 L660.6 448.2 L662.6 449.3 L665.0 449.3 L667.4 449.0 L669.7 450.5 L672.2 449.0" fill="none" stroke="#007d10" stroke-width="2.2" stroke-linejoin="round" stroke-linecap="round"/>
<path d="M56.8 431.0 L56.9 433.1 L57.1 435.3 L57.1 437.4 L57.3 439.6 L57.3 441.7 L57.6 443.8 L57.5 446.0 L58.2 448.2 L58.5 451.0 L61.2 450.2 L63.4 451.0 L65.6 450.0 L67.8 450.5 L70.0 449.1 L72.0 450.0 L74.0 450.0 L76.0 451.0 L78.0 451.0 L79.9 449.7 L82.2 450.6 L84.4 450.2 L86.4 449.3 L87.6 447.8 L88.5 445.9 L88.8 443.9 L88.5 441.7 L90.3 440.1 L91.9 438.4 L92.2 436.1 L91.1 433.8 L91.0 431.6 L91.6 429.5 L92.7 427.4 L92.5 425.1 L92.0 422.9 L92.9 420.8 L92.7 418.6 L93.5 416.5 L93.1 414.2 L92.6 411.9 L94.1 409.9 L95.0 407.8 L93.8 405.3 L95.2 402.7 L96.5 400.2 L96.2 397.9 L96.6 395.8 L99.2 394.6 L99.1 392.4 L100.0 390.6 L99.4 388.1 L102.0 387.0 L100.4 384.1 L102.0 382.6 L103.7 381.1 L104.9 379.2 L103.9 376.6 L104.7 374.6 L106.0 372.7 L105.1 370.2 L107.7 368.8 L108.3 366.7 L108.3 364.4 L109.8 362.7 L110.7 360.8 L111.2 358.8 L112.1 356.9 L113.6 355.2 L113.0 352.7 L114.2 350.9 L114.6 348.7 L116.6 347.1 L116.4 344.6 L117.8 342.8 L118.4 340.7 L119.2 338.6 L121.3 337.1 L120.8 334.5 L122.8 332.8 L123.1 330.5 L124.3 328.6 L124.1 326.1 L125.7 324.2 L126.2 322.2 L125.8 319.9 L127.0 318.1 L127.4 316.0 L128.0 314.0 L129.7 312.3 L128.8 309.9 L128.5 307.7 L129.0 305.7 L130.4 303.9 L130.8 301.8 L131.8 299.9 L132.7 298.0 L134.1 296.2 L133.4 294.0 L134.0 292.0 L133.8 289.7 L135.5 287.9 L136.7 286.1 L137.4 284.0 L135.6 281.2 L138.4 279.8 L139.6 277.9 L139.7 275.8 L139.5 272.6 L141.6 270.8 L143.6 269.0 L144.8 267.2 L145.4 264.9 L146.7 263.1 L149.2 262.3 L149.2 259.5 L152.3 259.1 L152.7 256.7 L154.3 255.1 L154.6 252.5 L156.5 250.9 L158.7 249.6 L158.7 246.7 L162.4 246.2 L160.5 243.3 L161.2 241.4 L162.7 239.7 L163.6 237.9 L164.4 236.0 L164.1 233.8 L164.8 231.9 L165.3 230.0 L165.5 227.8 L164.4 225.3 L167.5 223.7 L167.4 221.5 L167.8 219.3 L167.6 217.0 L168.7 215.0 L168.8 212.9 L169.2 210.7 L170.4 208.7 L168.6 206.2 L170.5 204.3 L169.8 202.0 L170.8 200.0 L172.4 198.2 L170.7 195.9 L171.7 194.0 L171.6 191.9 L173.0 190.1 L171.8 187.9 L171.5 185.8 L173.5 184.1 L173.1 182.0 L173.4 180.0 L174.8 178.2 L173.7 175.9 L174.4 173.9 L175.2 172.0 L175.8 170.1 L175.4 167.9 L177.0 166.1 L178.3 164.3 L176.6 161.9 L178.7 160.3 L176.1 157.6 L179.2 156.0 L178.2 153.6 L179.0 151.6 L179.0 149.4 L179.2 147.2 L179.1 145.0 L180.2 143.1 L181.9 141.3 L182.6 139.3 L182.5 136.8 L183.3 134.8 L184.1 132.7 L184.6 130.6 L187.4 129.3 L187.0 127.1 L187.1 125.0 L187.1 123.0 L187.2 120.9 L189.4 119.4 L189.5 117.3 L188.7 115.0 L190.7 113.4 L189.6 111.1 L191.6 109.4 L191.0 107.0 L192.1 105.0 L193.5 103.2 L194.1 101.1 L195.2 99.2 L194.5 96.7 L197.0 95.2 L197.5 93.1 L197.1 90.7 L198.0 88.8 L197.7 86.5 L198.8 84.6 L198.5 82.3 L200.1 80.6 L201.2 82.5 L201.6 84.9 L203.9 87.0 L204.5 84.0 L203.8 81.5 L204.1 79.2 L204.2 76.7 L205.4 75.0 L204.5 72.5 L207.2 71.3 L207.5 68.0 L209.0 71.0 L209.9 73.2 L210.9 71.0 L212.5 70.5 L213.0 71.2 L212.2 73.6 L214.1 76.3 L214.0 73.1 L215.2 70.9 L216.4 68.8 L215.7 66.3 L216.5 64.2 L217.5 66.0 L217.7 68.2 L218.5 70.1 L220.4 72.5 L220.1 74.8 L220.1 77.0 L221.4 79.1 L224.0 79.8 L224.2 82.8 L225.7 85.4 L227.8 85.1 L229.3 86.9 L231.3 88.5 L230.7 91.3 L232.8 93.3 L231.5 96.1 L234.4 97.5 L233.8 100.1 L234.1 102.4 L236.8 104.0 L236.0 106.9 L238.6 108.5 L239.4 109.7 L241.6 110.3 L243.2 111.4 L245.5 112.1 L248.1 113.0 L247.5 115.7 L248.7 117.4 L249.7 119.2 L250.7 121.0 L253.0 121.3 L254.2 123.3 L254.4 125.7 L254.9 127.5 L256.9 129.5 L257.6 131.7 L257.3 134.2 L257.3 136.6 L258.0 138.5 L259.8 140.2 L259.2 142.4 L259.7 144.4 L259.1 146.6 L259.7 148.5 L260.7 150.4 L260.6 152.5 L262.2 154.2 L261.6 156.8 L263.8 158.3 L264.0 160.5 L264.4 162.7 L266.5 164.3 L267.0 166.5 L268.4 168.3 L267.6 170.9 L268.4 173.0 L269.2 175.0 L269.5 177.6 L270.1 174.3 L273.0 173.8 L274.8 172.1 L275.6 170.2 L277.4 168.8 L279.1 167.4 L278.7 164.7 L279.5 162.7 L280.8 161.0 L282.3 159.5 L283.6 161.3 L286.0 162.1 L286.6 164.7 L288.9 164.9 L291.1 165.5 L293.1 164.3 L295.1 163.6 L295.6 165.8 L298.4 165.6 L299.9 166.9 L301.3 168.7 L304.1 168.5 L306.4 166.4 L309.0 167.2 L310.8 168.4 L311.2 170.7 L312.3 173.0 L315.0 173.0 L317.2 173.7 L319.2 174.7 L322.7 175.1 L322.0 178.8 L323.7 180.7 L325.5 182.4 L327.7 183.3 L329.9 184.4 L330.4 186.8 L330.1 189.1 L331.8 190.8 L331.4 193.2 L335.0 194.2 L334.2 196.8 L334.4 199.0 L335.8 200.7 L338.0 201.7 L338.6 204.0 L338.5 206.6 L341.4 207.3 L342.0 209.4 L342.9 211.3 L343.4 213.3 L343.3 215.6 L344.2 217.5 L347.1 218.3 L345.9 221.5 L348.4 222.5 L349.5 224.3 L349.2 227.1 L351.5 228.2 L353.4 229.7 L354.1 231.9 L355.3 233.8 L356.7 235.7 L357.4 237.9 L357.7 240.3 L359.1 242.0 L361.3 243.2 L359.5 246.6 L363.1 247.0 L363.3 249.2 L364.4 251.0 L365.0 253.2 L366.7 254.6 L367.4 256.6 L367.6 259.0 L370.1 259.7 L372.2 260.9 L371.7 263.5 L373.1 265.5 L373.3 267.8 L373.4 270.1 L373.8 272.3 L374.6 274.2 L376.8 272.3 L377.9 269.4 L379.9 271.2 L379.5 274.1 L381.4 275.8 L382.1 278.5 L384.8 279.4 L385.7 281.8 L387.5 283.6 L391.0 284.1 L392.0 287.0 L392.5 289.5 L391.3 292.4 L394.4 293.9 L393.0 296.8 L394.2 299.7 L395.5 296.9 L396.4 294.7 L396.7 292.0 L397.7 294.4 L398.5 296.4 L399.3 298.4 L400.1 300.5 L401.7 302.1 L403.4 304.1 L404.7 306.3 L405.4 308.9 L408.0 309.8 L409.0 311.9 L409.6 314.1 L411.0 315.9 L411.9 318.1 L414.6 319.2 L414.1 322.1 L415.2 324.2 L415.6 326.6 L418.6 327.7 L418.5 330.4 L419.1 332.8 L420.2 334.9 L420.9 337.3 L422.1 339.4 L424.9 340.4 L425.3 343.1 L427.3 344.5 L429.1 346.2 L429.1 349.3 L431.9 349.8 L433.6 351.3 L435.0 353.2 L436.8 354.6 L437.4 357.3 L439.3 358.6 L440.0 360.8 L441.9 362.0 L443.9 363.2 L444.2 365.7 L446.6 366.5 L447.8 368.3 L449.0 370.1 L450.6 371.6 L451.7 373.6 L454.3 373.9 L455.5 375.8 L457.3 376.9 L459.6 377.5 L461.3 379.0 L462.5 381.0 L463.9 382.9 L465.6 384.4 L467.2 386.0 L469.1 387.3 L471.0 388.5 L472.3 390.6 L474.8 390.6 L476.9 391.3 L478.5 393.0 L480.9 393.2 L482.5 394.9 L484.6 395.7 L486.3 397.1 L487.7 398.7 L489.8 399.5 L491.3 401.0 L493.6 401.4 L494.4 403.8 L496.6 404.5 L497.6 406.7 L500.9 406.3 L501.5 409.0 L502.6 411.1 L505.7 410.4 L506.9 413.0 L508.8 414.4 L510.9 415.6 L513.5 415.6 L514.9 417.9 L517.0 419.0 L519.4 419.3 L520.9 421.4 L523.2 421.8 L525.2 422.7 L527.5 423.3 L529.2 425.2 L531.5 426.1 L533.8 428.2 L535.6 425.4 L536.6 422.7 L539.0 420.7 L539.4 423.3 L541.2 424.8 L543.0 426.3 L545.0 427.5 L547.3 428.1 L549.7 426.4 L552.0 428.3 L554.4 428.4 L556.7 428.3 L559.3 427.6 L560.4 430.3 L562.8 430.8 L564.9 431.9 L566.6 433.1 L568.5 434.3 L570.9 433.5 L573.1 434.0 L574.9 436.7 L577.3 436.5 L579.6 436.2 L581.9 436.2 L584.1 435.5 L586.3 433.5 L588.7 435.6 L590.6 435.4 L593.0 436.6 L596.0 436.8 L597.9 438.9 L600.3 438.8 L602.5 437.1 L604.8 437.8 L607.2 438.6 L609.6 438.2 L611.9 439.3 L614.3 438.8 L616.7 439.2 L619.0 438.8 L621.4 437.5 L623.7 437.9 L626.0 441.2 L628.4 439.2 L630.7 440.2 L633.1 440.3 L635.4 441.0 L637.8 440.3 L640.0 439.8 L641.9 440.7 L644.1 439.6 L645.9 441.3 L647.7 442.5 L650.0 440.5 L652.1 442.6 L654.5 443.3 L656.8 444.0 L659.3 442.4 L661.7 442.9 L663.9 442.2 L665.9 443.1 L667.9 444.5 L669.9 446.0 L672.2 444.6" fill="none" stroke="#ff0000" stroke-width="2.3" stroke-linejoin="round" stroke-linecap="round"/>
<path d="M783.0 450.0 L784.9 448.7 L786.8 450.0 L788.7 450.0 L790.6 449.5 L792.5 450.0 L794.4 447.2 L796.3 449.9 L798.2 450.0 L800.1 450.0 L802.0 450.0 L803.9 450.0 L805.8 450.0 L807.7 450.0 L809.6 450.0 L811.5 450.0 L813.4 450.0 L815.3 449.8 L817.1 449.6 L818.5 447.9 L821.8 450.0 L822.5 446.9 L823.6 444.4 L826.5 445.8 L828.2 444.6 L830.1 444.0 L833.3 444.3 L832.7 441.0 L833.5 439.1 L833.9 437.0 L835.6 435.5 L836.1 433.4 L837.7 431.9 L841.4 431.5 L839.7 428.2 L838.7 426.0 L842.1 424.6 L841.3 422.4 L841.7 420.4 L841.9 418.4 L842.4 416.5 L842.6 414.5 L843.8 412.7 L843.7 410.7 L844.4 408.9 L843.2 406.3 L844.5 404.5 L844.5 402.3 L846.9 400.9 L847.5 399.1 L848.2 396.4 L850.5 395.5 L850.6 398.1 L851.9 398.5 L854.8 400.1 L854.1 402.3 L853.8 404.5 L854.9 406.4 L854.9 408.7 L855.5 410.9 L857.5 412.0 L860.0 412.8 L859.3 415.7 L861.1 417.3 L861.8 419.3 L863.5 421.0 L865.1 422.3 L866.5 423.9 L867.4 426.2 L869.7 427.4 L872.5 428.3 L870.2 432.5 L873.5 432.9 L874.4 435.1 L874.4 438.2 L877.7 438.2 L878.7 441.9 L881.2 439.6 L882.7 441.7 L885.0 441.2 L886.5 442.6 L888.5 443.0 L890.5 443.1 L892.6 441.2 L894.5 441.8 L896.3 443.5 L898.3 445.2 L900.5 443.0 L902.9 444.0 L905.1 443.5 L907.4 443.7 L909.6 444.1 L911.8 441.5 L913.7 443.6 L915.9 443.2 L917.9 443.2 L920.0 442.8 L922.0 442.9 L923.9 442.6 L925.8 442.6 L927.7 446.5 L929.7 445.7 L931.7 443.8 L933.6 444.7 L935.6 442.8 L937.5 440.9 L939.5 441.9 L941.4 444.1 L943.3 445.5 L945.3 443.9 L947.2 442.9 L949.2 443.8 L951.1 443.0 L953.1 442.5 L955.0 443.8 L956.9 443.7 L958.9 443.3 L960.8 443.2 L962.8 443.2 L964.7 444.5 L966.6 445.8 L968.6 444.0 L970.5 446.7 L972.5 442.5 L974.4 444.6 L976.4 443.1 L978.3 444.2 L980.3 444.5 L982.2 445.0 L984.2 445.7 L986.1 443.8 L988.1 443.1 L990.0 444.3 L991.9 444.9 L993.9 443.7 L995.8 445.7 L997.7 446.8 L999.7 442.7 L1001.6 445.1 L1003.5 446.0 L1005.5 441.9 L1007.4 444.9 L1009.4 444.3 L1011.3 442.5 L1013.2 446.7 L1015.2 445.1 L1017.1 443.9 L1019.0 445.5 L1021.0 445.8 L1022.9 446.1 L1024.8 445.8 L1026.8 445.5 L1028.7 442.7 L1030.7 444.1 L1032.6 445.1 L1034.6 439.6 L1036.4 449.0 L1038.4 444.2 L1040.3 442.8 L1042.3 441.2 L1044.2 445.5 L1046.1 445.0 L1048.1 443.8 L1050.0 444.1 L1051.9 443.2 L1053.9 443.5 L1055.8 444.9 L1057.7 443.8 L1059.6 446.5 L1061.5 444.8 L1063.5 445.4 L1065.4 446.0 L1067.3 447.9 L1069.2 446.5 L1071.1 445.7 L1073.1 444.9 L1075.0 443.6 L1076.9 444.6 L1078.8 446.8 L1080.8 445.8 L1082.7 444.6 L1084.6 442.6 L1086.6 442.2 L1088.5 446.1 L1090.4 447.6 L1092.3 446.3 L1094.3 442.7 L1096.2 445.1 L1098.1 446.0 L1100.0 443.7 L1101.9 446.4 L1103.9 445.3 L1105.8 444.1 L1107.8 443.3 L1109.6 447.6 L1111.5 446.8 L1113.5 444.2 L1115.5 444.0 L1117.2 448.1 L1119.2 447.5 L1121.2 445.7 L1123.0 449.7 L1125.1 445.9 L1127.5 444.9 L1128.4 449.7 L1131.1 447.6 L1132.8 449.2 L1135.0 449.1 L1136.9 446.9 L1138.8 446.5 L1140.7 448.6 L1142.6 450.0 L1144.5 446.9 L1146.4 450.0 L1148.3 449.5 L1150.2 446.7 L1152.1 449.6 L1154.0 450.0 L1155.9 447.2 L1157.8 444.7 L1159.7 449.8 L1161.6 446.8 L1163.5 450.0 L1165.4 445.1 L1167.3 448.8 L1169.2 447.4 L1171.1 446.1 L1173.0 448.6 L1174.9 449.5 L1176.8 448.0 L1178.7 446.7 L1180.6 449.6 L1182.5 445.5 L1184.4 450.0 L1186.3 450.0 L1188.2 450.0 L1190.1 450.0 L1192.0 450.0 L1193.9 449.8 L1195.8 449.3 L1197.7 446.5 L1199.6 450.0 L1201.5 450.0 L1203.4 448.7 L1205.3 446.9 L1207.2 450.0 L1209.1 450.0 L1211.0 446.8 L1212.9 450.0 L1214.8 450.0 L1216.7 449.3 L1218.6 450.0 L1220.5 448.5 L1222.4 448.0 L1224.3 450.0 L1226.2 450.0 L1228.1 449.6 L1230.0 449.1 L1231.9 450.0 L1233.8 448.7 L1235.7 450.0 L1237.6 450.0 L1239.5 447.3 L1241.4 447.2 L1243.3 449.3 L1245.2 450.0 L1247.1 450.0 L1249.0 450.0 L1251.0 446.6 L1252.8 450.0 L1254.8 448.2 L1256.6 449.7 L1258.5 450.0 L1260.5 447.5 L1262.4 449.0 L1264.3 447.1 L1266.1 450.0 L1268.1 447.8 L1270.0 448.5 L1271.9 450.0 L1273.8 448.2 L1275.6 450.0 L1277.6 448.2 L1279.4 450.0 L1281.4 450.0 L1283.3 447.4 L1285.2 449.1 L1287.1 447.9 L1289.0 448.8 L1290.9 449.0 L1292.7 450.0 L1294.7 448.7 L1296.5 450.0 L1298.5 450.0 L1300.4 446.9 L1302.3 444.9 L1304.2 450.0 L1306.1 445.5 L1308.0 450.0 L1309.9 450.0 L1311.8 450.0 L1313.7 449.3 L1315.6 449.2 L1317.5 450.0 L1319.4 449.1 L1321.3 448.6 L1323.2 449.0 L1325.1 450.0 L1327.0 448.5 L1328.9 450.0 L1330.8 447.4 L1332.7 448.3 L1334.6 446.9 L1336.5 449.4 L1338.4 450.0 L1340.3 450.0 L1342.2 448.8 L1344.1 450.0 L1346.0 449.1 L1347.9 450.0 L1349.8 450.0 L1351.7 450.0 L1353.6 444.7 L1355.5 447.2 L1357.4 450.0 L1359.3 449.6 L1361.2 450.0 L1363.1 449.4 L1365.0 448.7 L1366.9 450.0 L1368.8 450.0 L1370.7 450.0 L1372.6 450.0 L1374.5 449.5 L1376.4 450.0 L1378.3 448.3 L1380.2 449.0 L1382.1 448.8 L1384.0 449.5 L1385.9 450.0 L1387.8 449.0 L1389.7 450.0 L1391.6 449.0 L1393.5 450.0" fill="none" stroke="#2a2a2a" stroke-width="1.5" stroke-linejoin="round" stroke-linecap="round"/>
<path d="M779.6 395.0 L779.5 396.9 L779.9 398.9 L779.6 400.8 L779.6 402.8 L779.7 404.7 L779.5 406.7 L779.6 408.6 L779.5 410.6 L779.5 412.5 L779.5 414.4 L779.6 416.4 L779.7 418.3 L779.6 420.3 L779.6 422.2 L779.6 424.2 L779.6 426.1 L779.3 428.1 L779.8 430.0 L779.6 432.1 L779.9 434.2 L780.0 436.4 L780.0 438.5 L780.2 440.6 L780.4 442.7 L780.3 444.9 L780.5 447.0 L783.3 448.9 L784.4 450.0 L786.4 449.2 L788.3 449.4 L790.3 450.0 L792.2 450.0 L794.1 449.6 L796.1 450.0 L798.0 450.0 L800.0 449.3 L801.9 449.8 L803.9 449.5 L805.8 448.1 L807.7 448.5 L809.7 448.6 L811.7 450.0 L813.6 449.3 L815.5 449.2 L817.5 449.0 L819.5 449.9 L821.3 448.9 L823.4 449.4 L825.2 448.4 L827.2 448.5 L828.8 446.9 L830.8 446.7 L831.5 444.6 L832.7 442.9 L832.9 440.6 L834.6 439.3 L835.5 437.4 L836.7 435.7 L838.8 434.6 L839.4 432.5 L840.7 430.9 L841.2 429.0 L842.0 427.3 L842.9 425.5 L842.7 423.3 L844.3 421.9 L844.4 419.8 L845.0 417.9 L846.8 416.6 L848.1 415.0 L847.0 412.5 L849.0 410.9 L848.7 408.8 L847.9 406.7 L848.9 404.8 L849.2 402.9 L849.5 400.9 L849.3 398.8 L849.0 396.8 L850.1 394.9 L851.0 393.0 L851.2 391.0 L851.4 389.1 L851.9 387.1 L850.9 385.0 L851.8 383.1 L852.3 381.1 L853.0 379.2 L852.7 377.2 L853.3 375.2 L853.2 373.3 L852.8 375.5 L856.2 376.0 L855.8 378.3 L855.2 380.7 L857.4 381.8 L859.9 381.6 L861.2 383.6 L863.8 383.8 L864.4 386.1 L864.7 388.1 L864.7 390.3 L866.3 391.7 L867.1 393.5 L867.8 395.4 L869.1 396.9 L870.3 398.1 L872.2 397.8 L874.4 397.4 L876.4 396.3 L878.5 395.4 L879.9 395.3 L882.1 393.8 L884.6 393.3 L886.5 392.2 L888.0 390.4 L889.8 388.9 L891.7 387.1 L892.2 384.7 L893.1 382.4 L893.4 380.4 L894.5 378.8 L896.2 377.6 L896.5 375.5 L898.2 374.3 L898.4 371.9 L900.0 370.3 L900.9 368.3 L902.5 366.6 L902.7 364.3 L904.4 362.6 L906.3 361.2 L907.8 359.5 L909.9 358.3 L910.1 355.7 L911.2 353.8 L912.6 351.9 L915.2 352.0 L917.6 351.4 L918.1 353.6 L920.1 355.3 L919.7 359.4 L922.0 356.5 L921.7 354.2 L921.8 352.1 L923.5 350.6 L924.3 349.0 L926.9 347.8 L929.1 349.6 L931.9 347.9 L932.1 350.7 L932.4 352.8 L933.4 354.5 L935.8 355.6 L935.8 358.7 L937.1 356.1 L937.1 353.8 L938.5 352.0 L939.9 350.3 L939.8 347.8 L940.2 349.9 L941.0 351.8 L940.3 353.9 L942.8 355.4 L940.9 357.8 L942.6 359.0 L945.2 361.6 L949.3 361.8 L950.8 363.3 L952.3 364.6 L953.3 366.3 L955.5 367.7 L955.0 370.2 L956.6 372.0 L956.3 374.6 L958.8 375.7 L960.0 377.7 L962.0 379.0 L962.9 381.2 L965.3 381.1 L966.8 382.4 L969.3 381.6 L970.0 379.1 L970.2 381.2 L971.8 382.9 L971.9 385.0 L974.0 386.5 L973.3 389.0 L975.8 388.5 L978.6 388.0 L980.0 390.1 L979.5 392.6 L980.9 394.0 L983.0 395.0 L982.3 397.9 L985.0 397.8 L986.6 399.1 L988.0 400.5 L990.0 401.6 L991.5 403.0 L992.2 405.0 L993.0 407.8 L994.7 405.7 L994.1 403.0 L996.2 402.9 L997.9 403.7 L999.3 405.7 L1001.3 407.1 L1003.5 407.7 L1005.9 406.8 L1008.2 407.2 L1010.4 407.6 L1012.6 408.2 L1014.8 409.4 L1017.2 407.9 L1019.1 410.9 L1021.6 409.0 L1023.9 409.3 L1026.0 410.9 L1028.3 410.9 L1030.6 410.4 L1033.0 409.8 L1035.3 410.2 L1037.4 410.0 L1038.5 413.6 L1040.4 414.0 L1042.1 415.4 L1044.4 414.3 L1046.3 414.6 L1048.1 415.6 L1049.9 416.3 L1052.1 415.3 L1053.8 416.5 L1055.2 419.1 L1058.2 415.0 L1060.0 415.8 L1061.7 416.8 L1063.1 419.3 L1064.8 420.3 L1067.1 418.9 L1068.7 420.6 L1070.8 420.2 L1072.6 421.1 L1074.7 420.6 L1076.4 421.6 L1078.3 422.1 L1079.9 424.0 L1081.4 425.7 L1084.5 421.4 L1085.7 424.6 L1087.7 424.5 L1089.3 426.1 L1091.2 426.7 L1093.1 426.8 L1095.0 427.3 L1097.4 425.7 L1099.6 425.3 L1100.4 429.8 L1102.5 429.8 L1105.2 427.4 L1107.1 430.4 L1109.4 430.0 L1112.1 426.4 L1113.9 430.8 L1116.4 428.8 L1118.3 431.7 L1120.9 429.7 L1123.2 429.9 L1125.5 429.2 L1127.6 431.1 L1129.7 432.9 L1132.2 431.1 L1134.6 429.9 L1136.3 435.1 L1138.6 435.0 L1141.0 433.9 L1143.5 432.7 L1145.8 432.1 L1148.2 431.9 L1150.1 434.9 L1152.2 436.1 L1154.8 433.4 L1156.9 435.0 L1159.1 435.0 L1161.1 435.2 L1163.1 436.3 L1164.9 438.5 L1167.2 435.3 L1169.1 437.3 L1171.1 437.8 L1173.2 436.4 L1175.2 436.7 L1177.4 435.5 L1179.1 438.6 L1181.3 436.8 L1183.4 436.9 L1185.3 438.0 L1187.4 437.0 L1189.4 436.9 L1191.4 438.0 L1193.4 440.3 L1195.6 438.4 L1197.6 439.4 L1199.8 437.1 L1201.9 436.6 L1203.7 441.4 L1205.9 438.8 L1208.1 437.5 L1210.0 439.4 L1211.9 440.5 L1214.3 437.9 L1216.1 439.2 L1218.0 440.9 L1220.2 439.7 L1221.9 442.1 L1223.8 442.5 L1225.9 442.2 L1228.1 441.4 L1230.0 442.1 L1232.1 441.7 L1234.0 442.5 L1235.9 443.4 L1238.0 442.9 L1239.9 444.7 L1241.8 446.8 L1243.9 443.0 L1245.8 444.2 L1247.7 444.9 L1249.6 444.7 L1251.6 443.7 L1253.6 443.5 L1255.4 445.5 L1257.4 445.1 L1259.3 445.0 L1261.3 443.5 L1263.2 445.4 L1265.1 445.7 L1267.1 444.5 L1269.0 445.7 L1270.8 447.6 L1273.0 442.7 L1274.8 445.9 L1276.8 443.8 L1278.8 443.6 L1280.7 445.1 L1282.5 446.2 L1284.5 445.6 L1286.5 444.2 L1288.5 444.0 L1290.4 445.2 L1292.3 446.0 L1294.2 445.0 L1296.2 444.3 L1298.0 448.4 L1300.0 445.3 L1301.9 446.1 L1303.8 445.7 L1305.7 445.6 L1307.6 446.4 L1309.5 446.1 L1311.4 447.2 L1313.4 445.0 L1315.3 444.7 L1317.1 448.9 L1319.1 446.5 L1321.0 447.5 L1322.9 448.1 L1324.8 447.3 L1326.7 446.7 L1328.6 444.7 L1330.6 444.7 L1332.4 447.9 L1334.3 447.6 L1336.2 447.5 L1338.2 444.7 L1340.1 444.2 L1342.0 445.5 L1343.9 445.4 L1345.8 447.1 L1347.7 445.6 L1349.6 448.9 L1351.5 446.2 L1353.4 446.3 L1355.3 448.1 L1357.2 447.4 L1359.2 445.9 L1361.0 448.1 L1362.9 449.5 L1364.9 445.6 L1366.8 446.8 L1368.7 445.8 L1370.6 444.8 L1372.5 448.0 L1374.4 448.1 L1376.3 448.5 L1378.2 447.8 L1380.2 444.8 L1382.1 447.3 L1384.0 446.5 L1385.9 445.9 L1387.8 446.0 L1389.7 448.4 L1391.6 447.1 L1393.5 447.5" fill="none" stroke="#00f080" stroke-width="2.8" stroke-linejoin="round" stroke-linecap="round"/>
<path d="M779.6 406.0 L779.4 408.0 L779.6 410.0 L779.8 412.0 L779.5 414.0 L779.5 416.0 L779.6 418.0 L779.7 420.0 L779.4 422.0 L779.7 424.0 L779.6 426.0 L779.8 428.0 L779.7 430.0 L779.9 432.0 L779.7 434.0 L779.8 436.0 L780.1 438.0 L780.3 440.0 L780.3 442.0 L780.4 444.0 L780.6 445.9 L783.0 448.4 L784.5 448.9 L786.4 449.3 L788.4 448.8 L790.3 449.0 L792.3 447.8 L794.2 447.0 L796.2 448.7 L798.1 447.8 L800.1 448.3 L802.1 448.1 L804.0 448.6 L806.0 447.7 L808.0 449.1 L809.9 448.1 L811.9 448.3 L814.0 448.3 L815.4 446.7 L816.1 444.9 L816.0 442.5 L817.7 441.3 L820.1 440.6 L820.4 438.5 L821.5 437.0 L822.5 435.4 L823.7 433.7 L825.4 432.6 L827.1 431.5 L829.4 431.4 L830.9 429.8 L833.0 428.8 L833.8 426.6 L835.9 425.6 L836.6 423.3 L837.2 421.0 L840.1 420.7 L840.8 418.4 L842.2 416.9 L842.5 414.8 L843.0 412.9 L844.2 411.3 L844.3 409.2 L845.1 407.4 L846.2 405.7 L847.3 404.1 L847.0 402.1 L848.2 400.3 L848.8 398.4 L850.2 396.6 L850.4 394.7 L849.5 392.5 L850.4 390.7 L850.0 388.6 L850.8 386.7 L850.8 384.7 L850.8 382.7 L851.5 380.9 L850.8 378.7 L852.6 377.1 L852.7 375.0 L852.7 373.0 L853.7 371.2 L854.8 369.7 L857.2 367.7 L858.3 366.1 L858.8 364.1 L859.9 362.2 L858.7 359.8 L859.8 358.0 L860.7 356.1 L861.8 354.2 L861.5 352.0 L861.8 350.5 L864.8 351.4 L865.2 353.6 L864.6 356.1 L866.6 357.3 L867.2 360.6 L868.3 357.3 L869.9 355.8 L872.6 355.3 L874.3 354.6 L875.1 352.5 L877.1 351.1 L876.9 348.7 L877.7 346.6 L879.3 344.5 L880.9 343.2 L882.4 341.7 L883.2 339.8 L884.4 338.1 L885.2 336.1 L885.5 334.0 L886.9 332.3 L886.9 330.2 L886.1 328.0 L888.8 326.9 L888.7 324.8 L888.5 322.6 L890.1 321.2 L890.7 319.5 L891.9 317.9 L892.9 316.2 L890.7 313.6 L893.3 312.1 L894.3 310.2 L892.9 307.9 L892.7 305.5 L895.4 304.1 L897.0 302.1 L898.5 300.1 L898.3 297.6 L899.4 295.7 L900.5 293.7 L901.6 291.7 L903.3 290.1 L902.9 287.7 L903.2 285.5 L902.9 283.1 L905.8 282.1 L905.9 279.8 L906.7 277.9 L907.0 275.7 L908.8 274.3 L909.0 271.7 L911.3 271.1 L912.8 269.7 L914.3 268.3 L916.2 267.3 L916.8 265.2 L918.2 263.8 L919.9 262.7 L919.9 260.2 L921.8 259.3 L923.3 258.0 L925.0 257.0 L925.8 254.6 L926.9 256.9 L928.5 258.2 L930.9 258.8 L932.3 260.2 L933.0 261.5 L934.0 260.6 L934.8 258.9 L935.9 257.3 L937.5 255.6 L938.3 257.0 L937.6 259.2 L938.2 261.1 L938.8 263.1 L939.2 265.1 L941.5 266.1 L941.8 268.5 L943.9 269.6 L945.2 271.5 L945.9 273.7 L946.8 275.7 L948.1 277.6 L949.4 279.3 L952.4 280.5 L953.4 282.6 L955.3 283.7 L957.1 284.8 L957.8 287.0 L958.5 289.1 L960.6 290.2 L962.1 291.8 L961.8 294.5 L962.7 296.4 L964.9 297.5 L965.9 299.4 L966.8 301.3 L966.3 304.1 L969.0 305.0 L969.6 307.1 L971.0 308.7 L973.4 309.7 L974.1 311.8 L975.2 313.5 L975.4 315.9 L976.6 317.6 L976.8 320.0 L979.1 321.2 L979.8 323.2 L981.1 324.9 L982.1 326.8 L982.0 329.4 L984.2 330.5 L984.6 332.7 L985.9 334.5 L988.1 335.6 L988.5 337.9 L990.2 339.3 L991.8 340.5 L993.7 341.5 L995.6 342.3 L997.7 342.9 L998.9 345.3 L1001.4 344.9 L1003.0 346.2 L1004.7 347.5 L1006.8 347.0 L1008.6 347.9 L1010.4 348.7 L1012.3 348.9 L1014.1 350.0 L1016.7 347.5 L1017.7 351.2 L1020.1 349.8 L1022.4 348.5 L1024.0 350.0 L1026.2 350.0 L1027.6 352.1 L1030.0 351.3 L1031.7 352.5 L1033.1 354.6 L1035.0 355.2 L1037.4 355.1 L1039.0 356.6 L1040.8 357.7 L1042.6 358.8 L1044.5 359.7 L1046.5 360.4 L1047.4 362.6 L1050.7 360.9 L1051.6 363.1 L1052.8 364.8 L1054.7 365.2 L1056.5 366.1 L1058.0 367.2 L1059.1 369.1 L1059.9 371.4 L1062.6 371.1 L1064.3 372.2 L1065.4 374.1 L1067.5 374.7 L1070.2 374.0 L1070.6 377.3 L1072.9 377.5 L1074.9 378.2 L1076.1 380.6 L1078.3 380.8 L1080.5 381.1 L1083.3 380.2 L1085.0 381.6 L1085.8 384.6 L1087.8 385.4 L1089.4 387.0 L1091.4 387.6 L1093.7 388.0 L1096.1 388.4 L1097.9 389.7 L1099.1 391.9 L1101.7 392.0 L1102.3 395.2 L1105.4 393.8 L1107.6 394.3 L1108.5 397.0 L1111.3 396.2 L1111.2 401.0 L1114.6 399.0 L1115.9 401.2 L1117.9 402.2 L1120.2 402.7 L1122.7 402.8 L1124.7 403.9 L1124.8 408.1 L1126.7 409.0 L1128.1 411.1 L1131.6 407.4 L1132.6 410.6 L1134.7 410.6 L1136.2 412.3 L1138.7 411.4 L1140.0 413.6 L1141.8 414.5 L1143.9 414.9 L1145.4 416.6 L1148.0 415.4 L1149.1 418.2 L1151.9 416.2 L1152.7 419.7 L1156.6 415.1 L1157.2 419.1 L1159.5 418.8 L1161.0 420.5 L1162.4 422.4 L1164.4 422.8 L1166.6 422.7 L1167.8 425.3 L1171.0 422.2 L1172.5 423.5 L1173.7 426.8 L1175.9 425.8 L1178.6 423.3 L1179.7 426.8 L1182.0 425.3 L1183.7 429.0 L1186.0 428.9 L1188.6 427.0 L1190.5 429.6 L1193.1 427.2 L1195.0 429.7 L1197.2 429.5 L1199.4 428.8 L1201.7 427.3 L1203.7 429.0 L1206.0 426.7 L1207.9 429.1 L1210.4 427.7 L1211.7 431.9 L1214.3 429.6 L1216.6 428.2 L1217.8 432.4 L1219.9 432.5 L1222.1 431.9 L1223.4 435.6 L1225.8 434.3 L1228.0 433.8 L1230.2 433.4 L1232.8 430.9 L1233.9 435.6 L1235.8 436.6 L1238.1 435.0 L1240.3 434.4 L1242.0 436.5 L1244.4 434.8 L1246.0 437.3 L1247.8 438.7 L1249.6 440.0 L1251.9 438.8 L1254.0 439.1 L1255.8 440.2 L1257.7 441.4 L1260.1 439.6 L1262.1 438.6 L1263.9 439.4 L1265.9 438.9 L1267.7 439.6 L1269.5 440.8 L1271.4 441.5 L1273.3 441.5 L1275.2 441.5 L1277.2 441.2 L1279.0 442.4 L1280.8 443.1 L1282.8 443.1 L1284.6 444.3 L1286.7 442.2 L1288.6 442.4 L1290.3 445.1 L1292.4 443.3 L1294.2 443.8 L1296.2 443.0 L1298.0 444.9 L1300.0 443.3 L1301.9 442.5 L1303.8 443.8 L1305.7 443.3 L1307.6 445.0 L1309.5 443.5 L1311.4 444.2 L1313.4 443.8 L1315.3 444.5 L1317.2 443.3 L1319.1 445.6 L1321.0 442.4 L1322.9 443.7 L1324.8 443.3 L1326.7 445.1 L1328.6 444.4 L1330.5 445.0 L1332.4 444.0 L1334.4 443.5 L1336.3 443.0 L1338.2 444.1 L1340.1 443.8 L1342.0 444.9 L1343.9 445.1 L1345.8 445.9 L1347.7 444.5 L1349.6 443.7 L1351.5 443.4 L1353.4 444.8 L1355.3 445.3 L1357.2 447.3 L1359.1 445.1 L1361.0 447.2 L1362.9 447.3 L1364.9 443.6 L1366.8 446.6 L1368.7 446.5 L1370.6 446.8 L1372.5 445.1 L1374.4 446.4 L1376.3 444.6 L1378.2 445.1 L1380.1 445.3 L1382.0 447.6 L1384.0 445.1 L1385.8 446.6 L1387.8 445.5 L1389.7 444.5 L1391.6 445.8 L1393.5 445.5" fill="none" stroke="#0080ff" stroke-width="2.3" stroke-linejoin="round" stroke-linecap="round"/>
<path d="M779.5 352.4 L779.4 354.3 L779.6 356.3 L779.4 358.2 L779.6 360.2 L779.6 362.1 L779.5 364.1 L779.5 366.0 L779.6 368.0 L779.7 369.9 L779.5 371.9 L779.5 373.8 L779.6 375.8 L779.5 377.7 L779.7 379.7 L779.5 381.6 L779.5 383.6 L779.5 385.5 L779.6 387.5 L779.5 389.4 L779.5 391.4 L779.4 393.3 L779.5 395.3 L779.5 397.2 L779.6 399.2 L779.5 401.1 L779.5 403.1 L779.6 405.0 L779.5 407.0 L779.5 408.9 L779.6 410.9 L779.7 412.8 L779.4 414.8 L779.8 416.7 L779.6 418.7 L779.6 420.6 L779.5 422.6 L779.6 424.5 L779.7 426.5 L779.7 428.4 L779.8 430.4 L780.0 432.3 L779.9 434.3 L780.1 436.2 L780.1 438.2 L780.3 440.1 L780.3 442.1 L780.5 444.0 L780.6 446.0 L782.4 448.6 L784.5 448.8 L786.4 449.5 L788.4 448.3 L790.3 448.8 L792.3 449.3 L794.3 448.4 L796.2 448.5 L798.2 448.6 L800.2 448.0 L802.1 447.8 L804.1 449.3 L806.0 448.6 L808.0 448.5 L810.7 447.1 L812.6 446.6 L814.5 445.9 L815.0 443.4 L816.6 442.2 L819.0 441.9 L820.6 440.8 L822.4 439.6 L823.4 437.2 L825.6 436.5 L826.8 434.5 L829.1 434.0 L830.5 432.2 L831.9 430.7 L833.6 429.3 L834.0 427.2 L834.7 425.2 L835.9 423.6 L837.1 421.9 L837.7 419.8 L838.9 418.2 L839.9 416.4 L841.3 414.8 L839.8 412.0 L841.1 410.4 L841.9 408.5 L844.0 407.2 L845.4 405.4 L844.2 403.3 L844.5 401.4 L845.6 399.6 L843.5 397.3 L845.4 395.7 L843.8 393.5 L846.3 392.0 L846.2 390.1 L846.6 388.2 L847.5 386.4 L847.2 384.4 L848.7 382.7 L848.2 380.7 L848.8 378.9 L850.6 377.2 L848.9 375.0 L850.2 373.3 L849.3 371.2 L851.0 369.6 L851.5 367.8 L851.8 365.7 L853.1 364.1 L854.2 362.3 L854.5 360.3 L853.9 358.2 L854.2 356.3 L855.3 354.5 L854.0 352.3 L854.9 350.5 L856.0 348.7 L856.4 346.8 L857.9 344.9 L858.6 342.7 L858.3 340.5 L859.0 338.7 L858.5 336.5 L859.8 334.8 L860.7 333.1 L861.0 331.1 L861.8 329.3 L863.0 328.6 L865.1 329.5 L866.4 331.4 L868.5 332.6 L869.0 335.9 L869.6 333.4 L870.5 331.6 L873.0 331.2 L873.8 329.3 L875.6 328.3 L876.2 326.2 L878.4 326.1 L878.6 323.7 L879.2 321.7 L880.1 319.8 L880.8 317.8 L882.4 316.2 L884.1 314.5 L882.7 312.0 L882.5 310.0 L883.8 308.1 L884.3 306.2 L884.0 303.5 L885.7 301.8 L886.7 299.7 L888.8 298.1 L889.1 296.1 L888.6 294.1 L888.7 292.1 L890.2 290.4 L888.6 288.2 L890.7 286.6 L890.5 284.6 L892.1 283.1 L892.3 281.0 L892.2 278.7 L893.2 276.8 L894.0 274.9 L894.5 272.8 L895.8 271.1 L897.2 269.4 L896.5 266.8 L898.1 265.2 L899.8 263.8 L900.0 261.8 L899.7 259.6 L900.3 257.7 L901.0 255.8 L901.2 253.8 L903.6 252.6 L903.6 250.5 L903.7 248.5 L903.9 246.4 L905.3 244.8 L906.7 242.9 L909.3 242.1 L909.6 239.5 L911.3 238.0 L913.2 236.7 L914.5 235.1 L915.5 233.2 L916.1 230.8 L919.2 231.0 L920.1 229.3 L922.5 229.1 L924.9 229.8 L927.3 229.8 L929.3 229.1 L931.3 228.0 L933.9 228.5 L935.9 227.8 L936.6 229.5 L937.0 231.6 L937.9 233.4 L938.9 235.3 L940.2 237.0 L940.0 239.2 L940.4 241.3 L941.4 243.1 L941.8 245.2 L943.6 246.7 L944.6 248.5 L944.0 251.2 L946.8 251.8 L948.2 253.7 L950.3 255.0 L952.0 256.5 L952.8 258.4 L953.6 260.3 L955.0 262.0 L953.2 264.6 L954.9 266.2 L956.9 267.8 L956.8 269.9 L957.6 271.8 L957.9 273.8 L959.7 275.4 L958.3 278.0 L958.3 280.2 L960.5 281.5 L961.1 283.7 L962.2 285.5 L964.4 286.7 L964.0 289.3 L966.8 290.2 L967.2 292.4 L968.2 294.3 L967.9 296.5 L969.3 298.0 L970.1 299.7 L971.2 301.4 L971.3 303.3 L972.0 305.1 L972.2 307.1 L972.5 309.0 L973.6 310.6 L974.7 312.3 L975.5 314.0 L975.0 316.2 L976.6 317.7 L977.6 319.3 L977.4 321.6 L978.4 323.3 L979.9 324.8 L981.2 326.3 L982.4 327.9 L982.2 330.2 L984.0 331.5 L984.1 333.6 L986.0 334.9 L986.3 337.1 L987.0 339.2 L988.1 341.1 L989.0 343.2 L989.8 345.3 L992.2 345.0 L994.1 345.7 L995.7 347.1 L997.0 349.2 L999.5 348.5 L1001.5 348.6 L1003.6 349.0 L1005.8 349.9 L1008.0 351.2 L1010.4 349.9 L1012.5 351.2 L1014.4 351.8 L1016.5 352.3 L1018.6 352.7 L1020.1 354.4 L1022.3 354.8 L1023.5 356.9 L1026.7 356.0 L1026.9 359.8 L1029.0 360.6 L1031.0 361.6 L1032.3 363.7 L1034.7 364.0 L1037.8 362.7 L1038.3 365.5 L1039.7 366.9 L1042.0 366.8 L1043.9 367.3 L1044.5 369.9 L1046.0 371.0 L1048.4 371.5 L1049.8 373.1 L1051.7 374.2 L1053.3 375.6 L1054.5 377.4 L1055.2 379.9 L1058.9 378.7 L1059.8 381.1 L1060.4 384.4 L1063.1 384.2 L1065.1 385.2 L1066.5 387.1 L1069.5 386.3 L1071.5 387.0 L1073.6 387.4 L1075.4 388.6 L1076.3 391.4 L1077.8 393.0 L1080.4 392.5 L1082.5 393.2 L1083.7 395.4 L1085.5 396.5 L1087.6 397.1 L1090.7 395.6 L1091.8 398.1 L1094.8 396.8 L1095.1 400.8 L1097.6 400.5 L1099.4 401.7 L1100.1 405.1 L1102.1 405.8 L1104.5 405.6 L1106.4 406.0 L1108.3 406.6 L1110.5 406.4 L1112.2 407.7 L1113.2 410.7 L1116.3 408.2 L1118.1 409.2 L1119.6 410.8 L1121.1 412.4 L1123.0 413.1 L1125.7 411.7 L1127.2 413.3 L1129.2 413.9 L1131.5 413.5 L1132.8 415.7 L1134.9 415.7 L1136.3 418.1 L1138.4 418.0 L1140.6 417.0 L1142.2 418.5 L1144.2 418.4 L1146.2 418.6 L1148.1 419.2 L1149.3 421.7 L1151.8 420.7 L1154.3 419.9 L1155.7 421.7 L1156.9 424.2 L1158.3 426.6 L1161.3 423.2 L1163.0 424.5 L1164.8 425.0 L1167.1 424.2 L1168.4 426.8 L1170.4 426.7 L1172.3 427.6 L1173.9 430.4 L1176.5 427.7 L1178.3 429.4 L1180.3 429.9 L1182.6 428.5 L1184.6 429.0 L1186.5 431.9 L1188.9 431.1 L1191.3 430.7 L1193.7 429.5 L1195.6 432.2 L1197.7 432.2 L1199.3 434.6 L1201.5 434.1 L1203.7 433.7 L1205.9 433.5 L1208.0 433.7 L1210.1 433.3 L1211.8 434.8 L1213.7 435.2 L1215.4 436.1 L1217.2 437.1 L1219.3 436.6 L1221.4 436.0 L1222.9 438.0 L1224.6 439.4 L1227.1 436.9 L1228.6 438.9 L1230.5 439.5 L1232.3 439.9 L1234.2 440.3 L1236.3 440.0 L1238.2 440.4 L1239.7 443.1 L1241.8 443.2 L1243.9 439.4 L1245.9 438.1 L1247.7 441.9 L1249.7 440.6 L1251.6 440.8 L1253.6 439.6 L1255.5 442.1 L1257.4 441.7 L1259.4 441.1 L1261.2 443.0 L1263.1 445.0 L1265.1 443.9 L1267.0 443.6 L1269.1 441.7 L1270.9 443.1 L1272.9 442.3 L1274.8 443.9 L1276.7 443.3 L1278.7 442.6 L1280.6 443.4 L1282.6 441.9 L1284.5 443.8 L1286.4 444.8 L1288.4 442.6 L1290.3 443.8 L1292.3 441.1 L1294.1 444.4 L1296.1 444.4 L1298.1 442.1 L1299.9 445.7 L1301.9 443.7 L1303.8 441.4 L1305.7 441.9 L1307.6 444.7 L1309.5 443.3 L1311.4 445.0 L1313.4 441.7 L1315.3 443.5 L1317.2 444.9 L1319.1 442.9 L1321.0 444.6 L1322.9 443.3 L1324.8 444.2 L1326.7 444.2 L1328.6 446.6 L1330.5 442.3 L1332.4 444.8 L1334.3 445.5 L1336.3 442.5 L1338.2 444.0 L1340.0 446.8 L1342.0 445.3 L1343.9 440.3 L1345.8 443.7 L1347.7 441.9 L1349.6 444.4 L1351.5 443.1 L1353.4 443.4 L1355.3 443.0 L1357.2 444.5 L1359.2 443.6 L1361.1 443.0 L1363.0 443.9 L1364.9 444.7 L1366.8 443.1 L1368.7 445.6 L1370.6 442.2 L1372.5 444.8 L1374.4 443.8 L1376.3 446.3 L1378.2 443.5 L1380.2 443.5 L1382.1 442.7 L1383.9 446.9 L1385.9 445.2 L1387.8 443.1 L1389.7 444.0 L1391.6 443.3 L1393.5 444.5" fill="none" stroke="#ff80ff" stroke-width="2.0" stroke-linejoin="round" stroke-linecap="round"/>
<path d="M806.8 449.3 L808.4 447.8 L808.3 445.8 L807.5 443.5 L809.5 442.2 L810.5 440.5 L810.6 438.6 L811.5 436.9 L811.8 434.9 L812.7 433.2 L813.3 431.4 L813.4 429.5 L814.6 427.7 L815.0 425.7 L815.5 423.7 L815.6 421.6 L816.3 419.1 L818.7 420.2 L820.8 420.9 L823.2 419.2 L825.0 420.8 L827.0 420.0 L827.9 418.2 L828.2 415.9 L830.5 415.1 L830.4 412.6 L832.0 410.8 L833.2 413.4 L835.8 413.2 L837.5 414.3 L839.0 414.4 L840.1 413.4 L841.4 411.6 L843.3 410.3 L843.9 407.9 L846.6 407.6 L848.4 405.9 L850.7 404.8 L852.9 403.9 L854.7 402.7 L856.2 401.2 L856.2 398.8 L858.4 397.7 L859.4 395.9 L860.3 394.1 L860.8 392.0 L860.8 389.6 L863.0 388.4 L863.3 386.2 L864.6 384.6 L864.3 382.1 L866.2 380.7 L867.4 379.0 L867.2 376.9 L868.4 375.2 L869.8 373.5 L869.3 371.4 L869.2 369.4 L871.7 368.0 L869.3 365.4 L870.5 363.7 L871.8 362.0 L871.7 360.0 L871.1 357.8 L873.2 356.3 L874.0 354.6 L873.4 352.4 L875.3 350.9 L875.2 348.9 L876.1 347.1 L874.8 344.8 L876.3 343.2 L877.8 341.6 L878.5 339.7 L878.5 337.8 L878.1 335.7 L878.7 333.8 L878.6 331.8 L880.2 330.1 L879.4 327.9 L880.4 326.0 L879.4 323.8 L880.2 321.9 L882.8 320.4 L882.1 318.2 L882.6 316.3 L881.5 314.0 L883.3 312.4 L885.1 310.7 L883.2 308.3 L882.9 306.4 L884.6 304.7 L884.6 302.8 L885.1 300.9 L884.6 298.9 L884.8 297.0 L885.2 295.1 L886.6 293.4 L886.4 291.4 L887.3 289.6 L886.3 287.5 L887.6 285.8 L887.2 283.8 L887.8 281.9 L888.6 280.1 L888.3 278.1 L888.3 276.1 L887.7 274.0 L889.0 272.2 L889.8 270.3 L889.1 268.3 L889.7 266.4 L888.8 264.3 L889.4 262.4 L890.8 260.6 L891.6 258.7 L890.8 256.6 L890.2 254.6 L891.3 252.7 L890.7 250.7 L891.8 248.9 L893.5 247.1 L892.7 245.0 L892.7 243.0 L893.7 241.2 L893.0 239.1 L893.7 237.3 L893.9 235.3 L894.3 233.4 L893.3 231.3 L895.0 229.5 L895.3 227.6 L893.5 225.4 L893.5 223.4 L894.9 221.6 L896.7 219.8 L896.0 217.8 L896.7 215.9 L896.9 213.9 L897.3 212.0 L896.6 209.9 L896.9 207.8 L897.8 205.7 L898.3 203.6 L898.5 201.5 L898.7 199.3 L898.4 197.1 L899.7 195.1 L899.6 193.0 L900.3 191.1 L898.2 188.8 L900.8 187.1 L898.8 184.8 L900.9 183.0 L900.6 180.9 L901.4 179.0 L901.3 177.0 L901.7 175.0 L902.3 173.0 L902.7 171.0 L902.2 168.9 L901.3 166.7 L902.9 164.9 L904.1 163.1 L903.6 160.9 L904.8 159.1 L904.6 157.0 L904.6 154.9 L906.4 153.1 L907.1 151.2 L906.3 149.0 L906.7 147.0 L907.8 145.1 L906.6 142.8 L907.4 141.0 L909.2 139.4 L909.6 137.5 L909.2 135.4 L909.5 133.4 L910.7 131.7 L910.1 129.5 L911.2 127.8 L911.9 126.0 L910.9 123.6 L913.4 122.1 L914.0 120.1 L914.7 118.2 L913.6 115.8 L914.2 113.8 L915.0 111.9 L915.2 109.8 L917.9 108.4 L916.6 105.8 L917.6 103.9 L918.5 102.0 L919.3 100.1 L920.5 98.5 L919.5 96.1 L921.3 94.7 L921.4 92.7 L921.2 90.6 L922.5 89.1 L925.0 90.4 L925.6 94.0 L927.9 92.0 L930.3 92.6 L932.1 91.1 L932.8 88.7 L936.3 86.9 L936.8 89.4 L938.3 91.0 L937.7 93.3 L938.9 95.0 L940.2 96.8 L940.9 98.8 L940.8 101.2 L942.9 102.7 L941.5 105.2 L943.7 106.5 L943.9 108.5 L944.9 110.1 L943.9 112.5 L945.0 114.1 L945.1 116.2 L945.9 118.1 L946.7 120.0 L946.1 122.2 L947.2 124.1 L947.8 126.1 L948.1 128.1 L948.4 130.1 L949.2 132.0 L949.9 134.0 L951.3 135.8 L949.3 138.3 L951.9 139.8 L952.9 141.6 L952.7 143.6 L951.9 146.0 L952.6 147.8 L954.2 149.6 L954.0 151.8 L954.5 153.8 L956.1 155.7 L955.4 157.9 L955.3 160.0 L955.3 162.2 L957.4 163.7 L958.7 165.5 L958.8 167.6 L958.1 169.9 L958.8 171.8 L959.2 173.7 L959.6 175.6 L960.3 177.5 L961.4 179.2 L960.5 181.4 L961.0 183.3 L961.2 185.2 L961.2 187.2 L963.3 188.6 L964.5 190.3 L964.7 192.2 L962.6 194.7 L965.1 196.0 L964.7 198.1 L965.6 200.0 L965.7 202.1 L964.6 204.6 L967.6 205.9 L968.0 208.0 L968.8 209.9 L968.8 212.0 L969.1 214.1 L970.4 215.9 L969.3 218.2 L969.8 220.2 L970.7 222.1 L971.5 224.0 L972.0 226.0 L973.3 227.8 L972.2 230.1 L973.6 231.9 L973.8 233.9 L973.3 236.1 L975.0 237.9 L975.2 239.9 L974.7 242.1 L974.5 244.3 L976.6 245.9 L975.9 248.2 L977.5 249.9 L977.3 252.1 L977.7 254.1 L979.2 255.8 L978.1 258.1 L978.0 260.2 L979.6 262.0 L979.8 264.0 L981.2 265.8 L979.6 268.2 L981.2 270.0 L982.4 271.7 L981.5 273.9 L983.3 275.4 L983.2 277.4 L984.5 279.1 L982.6 281.4 L982.4 283.4 L984.7 284.9 L985.1 286.8 L985.4 288.7 L985.8 290.5 L985.4 292.6 L985.2 294.6 L987.2 296.1 L986.6 298.2 L988.5 299.6 L987.0 302.2 L988.7 303.5 L989.8 305.2 L989.0 307.5 L990.8 308.9 L990.5 311.0 L991.4 312.7 L991.6 314.7 L994.0 315.7 L994.5 317.7 L995.3 319.5 L996.6 320.9 L996.5 323.3 L999.0 324.0 L998.8 326.4 L999.5 328.3 L1002.9 328.5 L1003.2 330.6 L1004.2 332.4 L1005.0 334.3 L1005.4 336.5 L1006.9 338.0 L1007.7 339.9 L1009.2 341.5 L1010.0 343.4 L1010.6 345.5 L1011.4 347.4 L1013.7 348.3 L1014.2 350.4 L1015.8 351.8 L1016.4 353.8 L1018.5 354.9 L1017.5 357.8 L1018.8 359.4 L1020.6 360.7 L1022.1 362.1 L1023.1 363.7 L1024.5 365.1 L1026.4 366.0 L1024.9 369.6 L1024.7 372.3 L1029.8 370.6 L1030.9 372.2 L1030.6 374.9 L1031.8 376.4 L1034.9 376.3 L1036.5 377.3 L1035.8 380.7 L1039.4 380.0 L1037.8 384.3 L1040.9 384.0 L1041.8 385.9 L1043.2 387.2 L1045.1 388.1 L1046.1 389.9 L1047.8 391.0 L1048.1 393.9 L1050.8 393.9 L1052.4 395.3 L1054.4 396.1 L1056.0 397.4 L1058.0 399.0 L1059.2 401.3 L1059.4 404.7 L1061.6 405.6 L1064.0 406.4 L1064.3 409.3 L1066.5 410.3 L1068.8 411.2 L1070.9 411.6 L1073.2 411.4 L1074.4 413.8 L1076.5 414.0 L1079.0 413.3 L1080.6 414.5 L1081.2 419.0 L1083.9 417.6 L1085.8 418.6 L1087.9 418.9 L1090.2 418.8 L1091.8 420.6 L1093.4 422.0 L1095.8 421.0 L1097.3 422.6 L1098.9 423.9 L1101.4 422.8 L1102.9 424.2 L1105.1 423.7 L1106.4 425.9 L1108.6 425.3 L1109.9 427.7 L1112.5 426.0 L1113.3 429.6 L1116.0 427.8 L1118.0 427.8 L1119.9 428.4 L1121.0 431.0 L1123.5 429.8 L1124.5 433.8 L1126.8 433.4 L1128.9 432.7 L1131.2 430.4 L1133.0 432.5 L1135.1 431.8 L1137.3 430.7 L1139.1 433.8 L1141.0 436.4 L1143.7 433.2 L1145.7 435.2 L1147.7 436.1 L1150.3 433.7 L1152.1 434.9 L1153.9 436.1 L1155.9 436.8 L1158.3 435.1 L1160.0 437.3 L1162.2 437.2 L1164.1 438.9 L1166.8 436.0 L1168.8 437.6 L1170.9 438.0 L1173.1 438.6 L1174.9 440.1 L1177.1 438.6 L1178.6 443.1 L1181.1 439.0 L1182.9 441.1 L1184.9 441.6 L1186.8 441.7 L1189.2 440.6 L1191.5 440.1 L1193.5 441.2 L1195.5 442.7 L1197.8 442.3 L1199.9 443.2 L1201.8 443.4 L1203.9 441.7 L1205.8 441.7 L1207.5 444.9 L1209.6 442.6 L1211.6 441.3 L1213.2 445.9 L1215.3 442.6 L1217.2 442.6 L1219.0 445.2 L1221.1 442.6 L1222.9 443.1 L1224.7 445.7 L1226.7 443.5 L1228.3 447.9 L1230.5 444.9 L1232.1 448.4 L1234.3 445.2 L1236.2 445.3 L1238.2 444.5 L1240.0 445.2 L1242.0 444.9 L1243.9 445.6 L1245.8 446.7 L1247.8 444.1 L1249.7 444.6 L1251.7 443.1 L1253.5 447.8 L1255.5 445.8 L1257.4 446.0 L1259.4 446.0 L1261.3 447.4 L1263.2 446.6 L1265.1 447.3 L1267.1 446.1 L1269.0 446.2 L1271.0 446.3 L1273.0 444.0 L1274.8 447.9 L1276.8 444.5 L1278.7 445.3 L1280.6 447.5 L1282.6 446.8 L1284.5 447.8 L1286.4 449.0 L1288.3 449.3 L1290.3 448.7 L1292.3 446.7 L1294.1 449.7 L1296.2 446.0 L1298.1 447.0 L1300.0 448.5 L1301.9 446.9 L1303.8 447.1 L1305.7 446.8 L1307.6 449.0 L1309.6 444.1 L1311.4 449.0 L1313.3 448.7 L1315.3 447.3 L1317.2 448.1 L1319.1 446.2 L1321.0 448.9 L1322.9 450.0 L1324.8 446.3 L1326.7 449.3 L1328.6 447.5 L1330.5 447.1 L1332.4 447.0 L1334.3 447.4 L1336.3 446.0 L1338.2 445.9 L1340.0 449.8 L1342.0 447.7 L1343.9 448.4 L1345.8 448.1 L1347.7 448.4 L1349.6 445.8 L1351.5 446.6 L1353.4 448.6 L1355.3 449.1 L1357.3 446.4 L1359.2 447.2 L1361.1 446.5 L1363.0 448.8 L1364.9 448.4 L1366.8 448.0 L1368.7 447.2 L1370.6 448.5 L1372.5 448.1 L1374.4 447.1 L1376.3 448.5 L1378.2 447.3 L1380.1 449.4 L1382.0 449.0 L1384.0 447.3 L1385.9 449.0 L1387.8 448.3 L1389.7 447.3 L1391.6 447.1 L1393.5 448.3" fill="none" stroke="#ff7f3c" stroke-width="1.7" stroke-linejoin="round" stroke-linecap="round"/>
<path d="M779.6 403.0 L779.8 404.9 L779.7 406.8 L779.6 408.7 L779.5 410.6 L779.7 412.5 L779.6 414.5 L779.6 416.4 L779.5 418.3 L779.6 420.2 L779.5 422.1 L779.5 424.0 L779.8 426.0 L779.7 428.0 L780.1 430.0 L779.9 432.0 L780.0 434.0 L780.0 436.0 L780.2 438.0 L780.2 440.0 L780.2 442.0 L780.5 444.0 L780.6 446.0 L781.3 447.7 L782.3 449.6 L784.4 449.4 L786.4 449.9 L788.3 448.5 L790.2 449.8 L792.2 450.0 L794.1 450.0 L796.0 449.6 L798.0 449.1 L799.9 449.6 L801.9 449.2 L803.8 448.2 L805.7 448.9 L807.7 449.3 L809.4 449.0 L809.8 447.2 L811.0 445.5 L811.7 443.6 L812.8 441.8 L813.5 439.9 L814.4 438.1 L815.7 436.4 L815.9 434.3 L816.8 432.6 L818.4 430.6 L820.0 428.5 L822.9 429.0 L825.3 428.6 L826.9 427.3 L828.7 426.4 L830.4 425.3 L832.8 425.9 L834.3 424.3 L836.4 424.1 L838.5 423.7 L840.2 422.4 L842.6 422.5 L843.8 420.1 L846.0 419.8 L847.8 418.7 L849.1 416.8 L851.0 416.1 L852.5 414.6 L854.0 413.2 L856.2 412.8 L857.1 410.7 L859.8 410.0 L859.9 407.3 L861.4 405.7 L863.2 404.2 L863.7 402.3 L864.9 400.7 L865.4 398.7 L865.7 396.7 L866.0 394.7 L867.6 393.2 L870.1 392.3 L870.4 390.2 L870.8 388.2 L870.9 386.1 L871.7 384.2 L872.6 382.3 L872.0 380.0 L873.0 378.1 L873.5 376.1 L875.5 374.6 L874.5 372.2 L876.6 370.6 L875.9 368.3 L878.5 366.6 L877.1 364.1 L877.6 362.1 L878.9 360.2 L879.1 358.1 L879.7 356.1 L878.9 353.7 L880.8 352.1 L881.7 350.2 L881.1 347.8 L881.4 345.7 L881.5 343.6 L883.3 342.0 L883.3 340.0 L883.6 338.0 L883.3 335.9 L885.7 334.4 L885.6 332.3 L885.5 330.3 L887.0 328.6 L885.9 326.3 L887.4 324.5 L886.4 322.4 L888.3 320.7 L887.5 318.6 L888.8 316.8 L888.0 314.7 L888.8 312.9 L889.6 311.0 L888.5 308.8 L889.5 307.0 L889.2 305.0 L890.6 303.2 L889.9 301.1 L890.4 299.2 L890.8 297.3 L892.0 295.5 L890.8 293.3 L891.8 291.5 L891.9 289.5 L892.0 287.5 L892.1 285.6 L892.8 283.7 L893.4 281.8 L892.5 279.7 L894.0 277.9 L893.3 275.8 L894.4 274.0 L896.2 272.3 L894.4 270.0 L895.3 268.2 L895.4 266.2 L896.5 264.4 L895.8 262.3 L895.3 260.3 L895.7 258.3 L897.1 256.6 L897.5 254.6 L898.3 252.8 L897.5 250.7 L898.6 248.9 L897.7 246.8 L899.6 245.0 L899.0 243.0 L898.9 241.0 L899.7 239.1 L901.4 237.6 L900.4 235.2 L900.8 233.3 L901.6 231.5 L902.1 229.6 L903.5 228.0 L904.2 225.8 L904.4 223.5 L905.1 221.4 L906.3 219.3 L905.7 217.1 L905.5 215.0 L905.3 212.9 L907.4 211.3 L907.2 209.2 L907.9 207.3 L908.8 205.4 L909.2 203.5 L908.3 201.2 L909.1 199.3 L910.2 197.5 L910.4 195.4 L911.7 193.5 L910.9 191.2 L910.2 189.0 L912.7 187.3 L911.2 184.9 L912.0 182.9 L913.2 181.0 L912.6 178.7 L915.8 177.6 L915.5 174.8 L916.7 172.8 L916.6 170.6 L918.9 169.0 L918.3 166.6 L918.0 164.4 L919.8 162.7 L918.4 160.1 L919.6 158.2 L920.7 156.3 L921.1 154.2 L920.9 152.0 L923.0 150.3 L923.4 148.4 L923.1 145.8 L925.0 144.5 L925.7 142.2 L927.8 141.5 L929.6 141.6 L930.8 142.8 L932.0 144.4 L933.8 143.3 L935.8 141.2 L936.1 144.4 L938.3 145.6 L939.9 147.8 L942.8 147.8 L943.2 150.0 L942.2 152.2 L943.4 154.1 L944.2 156.1 L944.5 158.1 L944.0 160.3 L944.2 162.7 L946.0 164.3 L947.5 165.9 L948.9 167.6 L949.6 169.7 L950.3 171.8 L950.5 173.8 L951.6 175.6 L950.8 177.8 L952.7 179.4 L953.1 181.4 L952.7 183.5 L953.2 185.5 L954.3 187.3 L953.9 189.5 L955.9 191.0 L954.4 193.4 L954.5 195.5 L955.2 197.4 L956.9 199.0 L956.1 201.2 L957.9 202.8 L957.5 205.0 L959.0 206.7 L959.1 208.6 L959.2 210.6 L961.1 212.2 L960.4 214.3 L959.4 216.4 L962.9 217.8 L961.0 220.0 L961.0 222.0 L961.7 223.8 L962.1 225.7 L961.7 227.8 L962.7 229.5 L964.5 231.2 L964.2 233.1 L964.7 235.0 L965.3 237.0 L966.6 238.6 L967.3 240.5 L967.2 242.9 L970.8 243.3 L969.3 246.3 L970.3 248.0 L970.9 249.9 L971.8 251.9 L972.2 253.9 L972.4 256.0 L972.9 258.0 L974.0 259.9 L973.5 262.2 L975.0 264.0 L974.9 266.2 L975.5 268.1 L976.5 269.9 L975.9 272.2 L976.8 274.0 L978.0 275.7 L977.7 277.9 L979.1 279.6 L977.7 282.0 L978.8 283.8 L978.3 286.0 L980.5 287.3 L980.2 289.4 L981.9 290.9 L982.3 292.7 L982.4 294.7 L982.6 296.6 L982.9 298.6 L984.2 300.1 L983.9 302.5 L984.6 304.5 L986.5 306.2 L986.6 308.5 L987.8 310.4 L986.6 313.0 L988.8 314.5 L988.8 316.7 L989.8 318.4 L991.5 319.7 L992.6 321.3 L993.0 323.3 L994.7 324.6 L996.4 326.1 L997.7 328.1 L998.3 330.5 L999.9 332.3 L1000.0 334.7 L1003.6 334.4 L1003.3 337.1 L1005.6 337.8 L1005.1 340.5 L1006.2 342.1 L1007.4 343.7 L1007.0 346.0 L1009.2 347.2 L1010.1 348.9 L1011.3 350.6 L1011.7 352.5 L1011.8 354.6 L1012.0 356.6 L1012.1 358.9 L1014.2 360.5 L1015.4 362.5 L1015.7 364.6 L1017.3 365.6 L1019.0 366.7 L1020.7 367.9 L1022.6 368.6 L1023.8 370.5 L1025.5 371.7 L1026.5 373.5 L1028.8 374.2 L1028.7 376.9 L1029.6 378.7 L1030.8 380.4 L1033.1 381.1 L1034.9 382.2 L1036.2 383.6 L1037.5 385.0 L1038.5 386.9 L1039.6 388.5 L1042.3 388.6 L1041.6 392.2 L1044.9 391.6 L1045.6 393.8 L1047.1 395.2 L1046.9 398.0 L1047.2 400.4 L1050.6 400.1 L1051.8 401.8 L1053.2 403.2 L1054.3 404.9 L1055.5 406.5 L1054.2 410.2 L1059.0 408.8 L1059.3 411.2 L1061.1 412.0 L1062.3 414.0 L1064.8 413.8 L1066.3 415.9 L1069.1 414.7 L1069.6 419.3 L1072.5 417.8 L1075.4 416.3 L1076.3 420.0 L1078.8 419.4 L1081.2 419.4 L1082.5 422.1 L1084.9 421.8 L1086.3 424.1 L1088.9 423.3 L1090.4 425.7 L1092.7 425.4 L1094.6 426.3 L1096.7 426.6 L1098.9 426.6 L1100.9 427.2 L1102.6 428.8 L1104.5 429.9 L1107.0 429.4 L1107.7 433.3 L1110.0 433.5 L1113.3 431.0 L1114.3 434.4 L1116.8 433.8 L1118.8 434.4 L1120.9 433.3 L1122.6 436.6 L1125.0 433.7 L1126.9 434.8 L1129.0 434.2 L1130.4 437.7 L1132.5 437.4 L1135.4 434.9 L1137.1 436.6 L1138.8 438.1 L1141.1 437.8 L1143.1 438.5 L1145.3 438.2 L1147.0 440.2 L1149.3 438.9 L1150.8 441.7 L1152.5 444.1 L1155.2 441.1 L1156.7 443.9 L1159.1 442.8 L1161.1 441.5 L1163.1 441.9 L1165.1 441.1 L1167.2 442.4 L1169.2 443.2 L1171.2 443.5 L1173.2 442.0 L1175.4 441.0 L1177.2 442.6 L1179.0 445.0 L1181.2 443.5 L1183.3 443.3 L1185.6 441.0 L1187.3 443.3 L1189.2 444.6 L1191.3 442.8 L1193.1 445.9 L1195.2 443.6 L1197.1 443.3 L1199.1 443.8 L1201.0 444.5 L1202.8 446.0 L1204.9 444.2 L1207.0 442.7 L1208.8 445.0 L1210.7 445.9 L1212.6 447.3 L1214.7 444.0 L1216.5 447.4 L1218.5 446.5 L1220.4 446.4 L1222.5 445.0 L1224.5 444.9 L1226.4 445.0 L1228.2 447.5 L1230.2 446.7 L1232.1 447.9 L1234.0 448.9 L1236.1 446.8 L1238.1 446.8 L1239.9 449.4 L1242.0 445.4 L1243.9 446.5 L1245.8 446.7 L1247.8 446.7 L1249.7 447.4 L1251.6 446.2 L1253.5 448.8 L1255.5 445.7 L1257.4 446.4 L1259.4 445.4 L1261.3 445.8 L1263.2 448.3 L1265.1 448.4 L1267.1 447.4 L1269.0 448.8 L1270.9 448.6 L1272.9 447.1 L1274.8 447.8 L1276.8 448.4 L1278.6 450.0 L1280.7 447.5 L1282.6 448.5 L1284.5 448.8 L1286.4 449.7 L1288.4 448.7 L1290.3 449.6 L1292.3 447.0 L1294.2 448.0 L1296.2 446.0 L1298.1 448.4 L1300.0 450.0 L1301.9 448.8 L1303.8 448.6 L1305.7 448.9 L1307.6 448.7 L1309.6 446.9 L1311.5 447.7 L1313.4 448.4 L1315.3 448.8 L1317.2 447.6 L1319.1 448.5 L1321.0 447.8 L1322.9 447.0 L1324.8 447.9 L1326.7 447.7 L1328.6 449.8 L1330.5 450.0 L1332.4 449.5 L1334.3 448.5 L1336.3 448.1 L1338.2 446.8 L1340.1 448.2 L1342.0 450.0 L1343.9 450.0 L1345.8 449.2 L1347.7 448.6 L1349.6 448.9 L1351.5 449.5 L1353.4 448.9 L1355.3 449.5 L1357.3 448.0 L1359.2 449.1 L1361.1 448.6 L1363.0 450.0 L1364.9 447.5 L1366.8 450.0 L1368.7 449.0 L1370.6 448.5 L1372.5 449.1 L1374.4 449.3 L1376.3 448.9 L1378.2 449.7 L1380.1 448.5 L1382.1 447.1 L1384.0 450.0 L1385.9 449.2 L1387.8 450.0 L1389.7 449.8 L1391.6 446.8 L1393.5 449.3" fill="none" stroke="#007d10" stroke-width="2.2" stroke-linejoin="round" stroke-linecap="round"/>
<path d="M780.4 424.5 L780.3 426.5 L780.5 428.4 L780.4 430.4 L780.3 432.3 L780.4 434.3 L780.6 436.2 L780.5 438.2 L780.7 440.1 L780.5 442.1 L780.5 444.0 L780.7 446.0 L782.3 448.7 L784.5 449.0 L786.5 448.9 L788.4 448.0 L790.4 447.9 L792.4 447.7 L794.4 447.5 L796.3 448.6 L798.3 448.4 L800.3 449.3 L802.3 448.6 L804.2 448.2 L806.2 447.5 L808.7 449.3 L811.1 446.1 L811.7 443.9 L811.9 441.6 L812.6 439.5 L814.4 437.7 L814.1 435.2 L816.3 434.2 L817.5 432.7 L818.3 430.7 L819.2 428.4 L821.7 429.3 L823.7 429.7 L825.5 428.0 L827.4 427.5 L829.7 428.8 L831.5 427.5 L833.3 426.2 L835.7 426.6 L837.3 425.0 L839.4 424.7 L840.8 423.2 L842.3 422.0 L844.3 421.5 L845.5 419.9 L846.8 418.3 L848.9 418.0 L851.2 417.4 L852.6 415.9 L854.6 414.9 L855.5 412.8 L857.3 411.6 L857.7 409.2 L858.4 407.2 L859.9 405.8 L860.2 403.5 L862.2 402.4 L862.6 400.2 L864.1 398.7 L864.2 396.3 L865.5 394.5 L867.0 392.7 L867.0 390.3 L867.6 388.2 L869.0 386.4 L869.9 384.5 L869.8 382.4 L869.7 380.4 L870.0 378.4 L870.7 376.5 L872.7 375.0 L872.6 372.9 L873.5 371.1 L874.4 369.3 L874.4 367.2 L875.0 365.3 L874.9 363.1 L874.6 361.0 L876.6 359.4 L876.6 357.3 L877.5 355.5 L876.9 353.2 L878.0 351.4 L879.9 349.8 L878.5 347.5 L879.5 345.7 L880.7 343.9 L880.1 341.8 L880.7 340.0 L879.7 337.7 L882.0 336.2 L881.6 334.1 L883.1 332.5 L882.6 330.2 L882.7 328.2 L883.5 326.2 L883.4 324.1 L883.5 322.0 L885.2 320.2 L885.1 318.1 L884.8 316.0 L885.4 314.1 L885.6 312.1 L885.7 310.0 L885.5 308.0 L885.7 306.0 L886.2 304.0 L886.5 302.0 L886.5 300.0 L886.2 298.0 L886.7 296.0 L887.2 294.0 L886.5 291.9 L887.4 290.0 L888.1 288.1 L887.9 286.0 L887.8 284.0 L888.2 282.0 L888.1 280.0 L889.3 278.1 L888.6 276.0 L888.0 273.9 L888.5 271.9 L889.7 270.0 L889.9 268.1 L889.7 266.1 L889.5 264.1 L890.5 262.3 L890.3 260.3 L890.7 258.4 L891.4 256.5 L891.1 254.5 L892.1 252.6 L891.7 250.6 L892.2 248.7 L892.6 246.8 L893.9 245.0 L894.3 243.1 L894.1 241.1 L893.3 239.0 L894.1 237.2 L895.0 235.3 L895.2 233.4 L893.9 231.2 L895.2 229.4 L895.1 227.4 L896.3 225.6 L896.6 223.6 L896.1 221.6 L898.1 219.9 L896.9 217.7 L898.9 216.1 L897.5 213.9 L897.9 211.9 L899.4 210.2 L898.1 207.7 L898.5 205.4 L900.0 203.3 L899.3 200.9 L899.9 198.9 L899.0 196.8 L901.3 195.1 L901.0 193.0 L900.9 190.9 L901.4 189.0 L900.9 186.9 L901.2 184.9 L900.7 182.8 L902.2 180.9 L903.1 179.0 L903.1 177.0 L903.4 175.0 L903.5 173.0 L902.7 170.8 L902.8 168.8 L904.4 167.0 L904.4 165.0 L905.3 163.2 L904.9 161.1 L904.9 159.1 L906.1 157.3 L905.8 155.2 L905.5 153.2 L906.5 151.4 L906.7 149.4 L906.9 147.4 L907.7 145.5 L909.1 143.8 L910.5 142.1 L910.6 140.1 L909.7 137.8 L911.2 136.1 L910.9 134.0 L911.7 132.1 L911.5 130.0 L912.4 128.2 L911.8 126.0 L914.4 124.6 L913.3 122.3 L914.6 120.6 L914.3 118.5 L915.2 116.7 L914.8 114.6 L915.7 112.8 L917.0 111.0 L917.3 108.8 L916.2 106.3 L918.5 104.5 L917.7 102.0 L919.2 100.0 L920.0 98.1 L919.8 95.9 L920.7 93.9 L921.4 91.9 L923.1 89.3 L923.1 91.5 L923.5 93.9 L925.0 96.2 L927.2 94.6 L927.1 91.4 L926.4 94.5 L928.2 96.5 L928.0 98.9 L929.0 100.9 L930.1 99.0 L930.4 96.8 L931.9 94.7 L933.6 92.7 L933.0 90.1 L934.0 92.0 L935.0 94.0 L936.1 92.1 L936.1 90.0 L936.8 88.0 L937.2 90.4 L937.1 92.9 L937.9 95.1 L939.6 97.0 L939.6 99.2 L939.6 101.4 L939.5 103.7 L940.3 105.8 L941.9 107.5 L941.4 110.1 L943.6 111.5 L943.5 113.9 L943.9 115.9 L944.2 118.0 L945.5 119.9 L945.7 122.0 L947.4 123.8 L948.0 125.9 L947.7 128.1 L947.2 130.2 L947.3 132.2 L948.3 134.0 L947.9 136.0 L948.5 137.9 L948.3 140.0 L950.6 141.6 L950.4 143.6 L950.8 145.5 L951.3 147.5 L950.0 149.9 L952.1 151.6 L952.5 153.6 L952.6 155.7 L952.2 158.0 L953.5 159.8 L953.2 162.0 L953.7 164.0 L954.9 165.9 L956.4 167.7 L956.0 170.0 L956.6 172.0 L955.2 174.4 L957.1 176.1 L957.8 178.1 L957.3 180.3 L958.0 182.3 L959.0 184.2 L958.2 186.6 L959.0 188.6 L960.0 190.6 L961.2 192.5 L962.0 194.5 L963.3 196.4 L962.4 198.9 L963.0 201.0 L964.4 202.6 L964.3 204.6 L962.8 207.0 L966.1 208.0 L967.1 209.7 L966.1 212.0 L967.3 213.6 L967.9 215.4 L967.8 217.6 L968.8 219.5 L968.6 221.7 L969.5 223.6 L969.6 225.7 L970.8 227.5 L972.7 229.1 L970.9 231.4 L973.2 232.8 L971.9 235.1 L972.8 236.9 L974.2 238.5 L973.8 240.6 L973.7 242.5 L975.3 244.1 L975.0 246.2 L975.9 247.9 L976.5 249.7 L976.7 251.6 L975.9 253.8 L976.7 255.8 L977.6 257.7 L978.1 259.8 L978.4 261.9 L978.7 264.0 L979.2 266.1 L980.9 267.9 L979.6 270.3 L981.1 272.0 L982.6 273.7 L980.9 276.1 L982.5 277.8 L982.2 279.8 L982.6 281.8 L983.3 283.6 L983.0 285.7 L983.9 287.5 L984.2 289.5 L985.1 291.3 L985.0 293.3 L985.9 295.2 L985.6 297.2 L985.1 299.3 L985.8 301.3 L986.9 303.1 L988.8 304.6 L988.1 307.2 L988.9 309.1 L988.9 311.3 L992.5 312.1 L991.8 314.7 L992.8 316.5 L992.9 318.7 L995.3 319.6 L995.9 321.6 L995.2 324.3 L997.0 325.6 L1000.1 326.1 L999.7 328.6 L999.8 330.9 L1002.2 331.7 L1002.4 334.0 L1003.8 335.5 L1005.9 336.5 L1006.4 338.6 L1006.1 341.1 L1007.1 342.9 L1009.5 343.8 L1009.2 346.3 L1011.6 347.2 L1011.9 349.3 L1013.2 350.9 L1015.2 352.0 L1015.0 354.5 L1016.6 355.9 L1019.5 356.4 L1019.0 359.1 L1020.1 360.8 L1021.1 362.4 L1022.4 363.9 L1023.4 365.6 L1026.0 366.0 L1024.6 369.7 L1026.5 370.7 L1027.6 372.4 L1029.2 373.6 L1030.2 375.3 L1031.7 376.7 L1033.6 377.6 L1035.3 378.6 L1035.4 381.2 L1036.0 383.3 L1038.0 384.1 L1038.3 386.6 L1042.1 385.4 L1042.6 387.7 L1044.3 388.8 L1044.1 391.8 L1045.3 393.6 L1048.6 392.8 L1049.2 395.3 L1051.5 395.7 L1053.7 396.2 L1054.5 398.4 L1057.1 399.2 L1056.9 403.3 L1059.5 404.0 L1060.4 406.1 L1062.6 406.9 L1066.6 406.1 L1065.2 410.4 L1067.3 411.3 L1070.6 410.3 L1070.7 413.6 L1072.2 415.4 L1073.8 416.9 L1076.9 414.4 L1078.0 417.2 L1080.1 417.4 L1082.2 417.5 L1084.1 418.1 L1085.6 419.7 L1087.5 420.5 L1089.3 421.3 L1091.7 420.7 L1093.9 420.4 L1094.7 424.2 L1096.6 424.8 L1099.3 423.3 L1100.9 424.7 L1102.5 426.4 L1105.2 423.8 L1106.4 427.0 L1107.7 429.7 L1110.2 427.7 L1112.3 427.0 L1113.2 430.8 L1115.9 429.0 L1117.7 430.0 L1119.8 429.9 L1121.5 431.3 L1124.2 429.7 L1125.7 430.9 L1127.8 431.0 L1129.7 434.2 L1132.1 433.2 L1134.2 435.1 L1136.9 431.4 L1139.0 433.4 L1140.9 436.2 L1143.5 433.7 L1145.9 432.8 L1148.1 434.4 L1149.9 435.4 L1151.6 436.2 L1153.1 438.3 L1155.0 438.8 L1156.8 439.5 L1159.0 438.8 L1161.2 437.7 L1163.2 437.9 L1165.3 436.9 L1167.0 440.5 L1169.0 440.6 L1171.2 439.4 L1173.3 438.4 L1175.1 440.5 L1177.2 440.5 L1179.2 440.3 L1181.4 438.9 L1183.2 440.8 L1185.4 440.0 L1187.2 441.8 L1189.3 441.9 L1191.5 442.1 L1193.7 441.3 L1195.5 444.1 L1197.7 443.4 L1199.8 444.4 L1201.8 443.9 L1203.8 443.9 L1205.7 443.6 L1207.7 441.9 L1209.7 441.1 L1211.5 442.3 L1213.3 444.4 L1215.2 444.9 L1217.1 444.1 L1219.0 444.1 L1220.8 446.3 L1222.9 443.7 L1224.9 442.1 L1226.8 442.5 L1228.6 444.1 L1230.4 445.5 L1232.3 445.6 L1234.3 444.6 L1236.1 446.0 L1238.1 445.0 L1240.0 444.3 L1241.9 444.8 L1243.8 446.2 L1245.8 446.5 L1247.8 444.0 L1249.7 444.2 L1251.6 445.6 L1253.5 448.2 L1255.5 444.1 L1257.5 444.0 L1259.3 446.2 L1261.3 446.3 L1263.2 445.0 L1265.2 445.8 L1267.1 446.4 L1269.1 443.7 L1271.0 445.9 L1272.9 446.7 L1274.8 447.1 L1276.7 447.5 L1278.7 446.0 L1280.7 444.3 L1282.5 447.8 L1284.5 447.2 L1286.5 445.5 L1288.4 447.6 L1290.3 447.7 L1292.3 446.2 L1294.3 443.6 L1296.1 445.9 L1298.1 445.6 L1300.0 445.5 L1301.9 446.5 L1303.8 445.3 L1305.7 447.1 L1307.6 449.0 L1309.6 445.2 L1311.4 448.0 L1313.4 446.1 L1315.3 447.4 L1317.2 446.6 L1319.1 448.4 L1321.0 445.9 L1322.9 447.7 L1324.8 445.9 L1326.7 447.1 L1328.6 446.9 L1330.5 448.3 L1332.5 445.0 L1334.4 445.2 L1336.2 448.7 L1338.2 447.5 L1340.1 449.1 L1342.0 445.7 L1343.9 447.3 L1345.8 447.8 L1347.7 449.2 L1349.6 447.0 L1351.5 446.5 L1353.4 448.0 L1355.3 447.0 L1357.3 446.2 L1359.1 448.1 L1361.1 444.8 L1363.0 446.0 L1364.9 448.9 L1366.8 446.6 L1368.7 446.9 L1370.6 447.7 L1372.5 448.7 L1374.4 448.0 L1376.3 446.1 L1378.2 446.7 L1380.1 448.7 L1382.1 447.2 L1384.0 446.6 L1385.9 448.5 L1387.8 448.9 L1389.7 450.0 L1391.6 446.1 L1393.5 447.5" fill="none" stroke="#ff0000" stroke-width="2.3" stroke-linejoin="round" stroke-linecap="round"/>
<path d="M58.6 11.5 L58.6 218 L58.9 220 L58.9 447" fill="none" stroke="#ff80c8" stroke-width="1.7"/>
<path d="M476.8 440 L478 362 L478.9 359.5 L479.6 362 L480.6 440" fill="none" stroke="#ff80c8" stroke-width="1.4"/>
<path d="M1197.6 433 L1199.3 414.8 L1201 433" fill="none" stroke="#ff80ff" stroke-width="1.6" stroke-linejoin="round"/>
<line x1="523.2" y1="79.1" x2="557.4" y2="79.1" stroke="#ff0000" stroke-width="2.2"/>
<text transform="translate(576.9,86.20) scale(0.963,1) rotate(0.2)" class="lg">90 °C</text>
<line x1="523.2" y1="100.3" x2="557.4" y2="100.3" stroke="#007d10" stroke-width="2.5"/>
<text transform="translate(576.9,107.70) scale(0.963,1) rotate(0.2)" class="lg">80 °C</text>
<line x1="523.2" y1="121.9" x2="557.4" y2="121.9" stroke="#ff7f3c" stroke-width="2.1"/>
<text transform="translate(576.9,130.50) scale(0.963,1) rotate(0.2)" class="lg">70 °C</text>
<line x1="523.2" y1="144.5" x2="557.4" y2="144.5" stroke="#ff80c8" stroke-width="2.0"/>
<text transform="translate(576.9,153.00) scale(0.963,1) rotate(0.2)" class="lg">60 °C</text>
<line x1="523.2" y1="166.1" x2="557.4" y2="166.1" stroke="#0080ff" stroke-width="2.6"/>
<text transform="translate(576.9,175.50) scale(0.963,1) rotate(0.2)" class="lg">50 °C</text>
<line x1="523.2" y1="188.2" x2="557.4" y2="188.2" stroke="#00f080" stroke-width="2.8"/>
<text transform="translate(576.9,197.70) scale(0.963,1) rotate(0.2)" class="lg">40 °C</text>
<line x1="523.2" y1="210.0" x2="557.4" y2="210.0" stroke="#000000" stroke-width="1.9"/>
<text transform="translate(576.9,220.50) scale(0.963,1) rotate(0.2)" class="lg">30 °C</text>
<line x1="1226.4" y1="114.8" x2="1270.2" y2="114.8" stroke="#ff0000" stroke-width="2.2"/>
<text transform="translate(1290.7,121.25) scale(0.954,1) rotate(0.2)" class="lg">90 °C</text>
<line x1="1226.4" y1="137.1" x2="1270.2" y2="137.1" stroke="#007d10" stroke-width="2.5"/>
<text transform="translate(1290.7,143.35) scale(0.954,1) rotate(0.2)" class="lg">80 °C</text>
<line x1="1226.4" y1="158.9" x2="1270.2" y2="158.9" stroke="#ff7f3c" stroke-width="2.1"/>
<text transform="translate(1290.7,165.95) scale(0.954,1) rotate(0.2)" class="lg">70 °C</text>
<line x1="1226.4" y1="179.8" x2="1270.2" y2="179.8" stroke="#ff80ff" stroke-width="2.0"/>
<text transform="translate(1290.7,187.75) scale(0.954,1) rotate(0.2)" class="lg">60 °C</text>
<line x1="1226.4" y1="201.6" x2="1270.2" y2="201.6" stroke="#0080ff" stroke-width="2.6"/>
<text transform="translate(1290.7,210.35) scale(0.954,1) rotate(0.2)" class="lg">50 °C</text>
<line x1="1226.4" y1="223.2" x2="1270.2" y2="223.2" stroke="#00f080" stroke-width="2.8"/>
<text transform="translate(1290.7,232.75) scale(0.954,1) rotate(0.2)" class="lg">40 °C</text>
<line x1="1226.4" y1="245.3" x2="1270.2" y2="245.3" stroke="#404040" stroke-width="1.9"/>
<text transform="translate(1290.7,255.75) scale(0.954,1) rotate(0.2)" class="lg">30 °C</text>
<text transform="translate(54.60,490.0) scale(0.975,1)" class="tk" text-anchor="middle">325</text>
<text transform="translate(159.50,490.0) scale(0.975,1)" class="tk" text-anchor="middle">400</text>
<text transform="translate(284.85,490.0) scale(0.975,1)" class="tk" text-anchor="middle">500</text>
<text transform="translate(414.75,490.0) scale(0.975,1)" class="tk" text-anchor="middle">600</text>
<text transform="translate(541.75,490.0) scale(0.975,1)" class="tk" text-anchor="middle">700</text>
<text transform="translate(673.05,490.0) scale(0.975,1)" class="tk" text-anchor="middle">800</text>
<text transform="translate(775.35,490.0) scale(0.975,1)" class="tk" text-anchor="middle">325</text>
<text transform="translate(880.75,490.0) scale(0.975,1)" class="tk" text-anchor="middle">400</text>
<text transform="translate(1004.85,490.0) scale(0.975,1)" class="tk" text-anchor="middle">500</text>
<text transform="translate(1134.75,490.0) scale(0.975,1)" class="tk" text-anchor="middle">600</text>
<text transform="translate(1260.75,490.0) scale(0.975,1)" class="tk" text-anchor="middle">700</text>
<text transform="translate(1393.05,490.0) scale(0.975,1)" class="tk" text-anchor="middle">800</text>
<text transform="translate(347.45,535.1) scale(0.970,1)" class="ax" text-anchor="middle">Wavelength / nm</text>
<text transform="translate(1081.9,535.1) scale(0.965,1)" class="ax" text-anchor="middle">Wavelength / nm</text>
<text transform="translate(34.6,302.6) rotate(-90) scale(1.006,1)" class="yl1">Intensity (a.u.)</text>
<text transform="translate(756.6,328.7) rotate(-90) scale(1.002,1)" class="yl2">Intensity (a.u.)</text>
<text x="116.6" y="83.4" class="pl" text-anchor="middle">(h)</text>
<text x="820" y="79.3" class="pl2">(i)</text>
</svg>
</body></html>
